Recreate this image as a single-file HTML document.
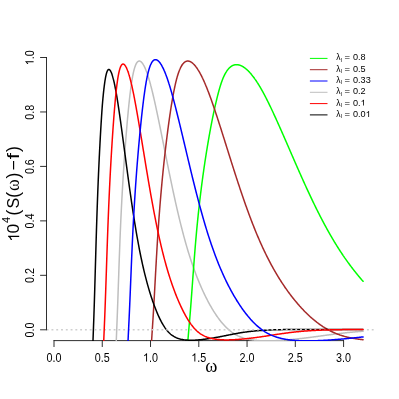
<!DOCTYPE html>
<html><head><meta charset="utf-8"><title>plot</title><style>html,body{margin:0;padding:0;background:#fff;width:399px;height:399px;overflow:hidden}</style></head><body>
<svg width="399" height="399" viewBox="0 0 399 399" style="position:absolute;left:0;top:0">
<defs><filter id="bl" x="0" y="0" width="399" height="399" filterUnits="userSpaceOnUse"><feGaussianBlur stdDeviation="0.35"/></filter><clipPath id="c"><rect x="46.7" y="46.1" width="328.5" height="294.9"/></clipPath></defs>
<rect width="399" height="399" fill="#fff"/>
<g filter="url(#bl)">
<path d="M46.5,57.50 L46.5,329.8 M46.5,329.80 L40.5,329.80 M46.5,275.34 L40.5,275.34 M46.5,220.88 L40.5,220.88 M46.5,166.42 L40.5,166.42 M46.5,111.96 L40.5,111.96 M46.5,57.50 L40.5,57.50 M54.0,340.6 L343.59,340.6 M54.00,340.6 L54.00,346.6 M102.27,340.6 L102.27,346.6 M150.53,340.6 L150.53,346.6 M198.80,340.6 L198.80,346.6 M247.06,340.6 L247.06,346.6 M295.32,340.6 L295.32,346.6 M343.59,340.6 L343.59,346.6" stroke="#1a1a1a" stroke-width="0.9" fill="none" stroke-linecap="round"/>
<g clip-path="url(#c)" fill="none" stroke-linecap="round" stroke-linejoin="round">
<path d="M114.00,407.05 L114.08,404.25 L114.17,401.46 L114.26,398.68 L114.35,395.91 L114.43,393.15 L114.52,390.40 L114.61,387.67 L114.70,384.94 L114.79,382.23 L114.88,379.52 L114.97,376.83 L115.06,374.15 L115.16,371.48 L115.25,368.82 L115.34,366.16 L115.44,363.52 L115.53,360.89 L115.62,358.27 L115.72,355.66 L115.82,353.06 L115.91,350.47 L116.01,347.89 L116.10,345.32 L116.20,342.76 L116.30,340.21 L116.40,337.67 L116.50,335.14 L116.60,332.62 L116.70,330.10 L116.80,327.60 L116.90,325.11 L117.00,322.62 L117.10,320.15 L117.20,317.62 L117.30,315.02 L117.40,312.36 L117.50,309.63 L117.60,306.86 L117.70,304.03 L117.81,301.16 L117.91,298.25 L118.01,295.30 L118.11,292.32 L118.21,289.32 L118.32,286.30 L118.42,283.26 L118.53,280.21 L118.63,277.16 L118.74,274.10 L118.84,271.04 L118.95,267.98 L119.05,264.93 L119.16,261.90 L119.27,258.88 L119.38,255.88 L119.49,252.91 L119.60,249.96 L119.71,247.04 L119.82,244.16 L119.93,241.31 L120.04,238.50 L120.15,235.74 L120.26,233.01 L120.38,230.34 L120.49,227.70 L120.60,225.10 L120.72,222.55 L120.83,220.03 L120.95,217.55 L121.06,215.11 L121.18,212.71 L121.30,210.34 L121.41,208.00 L121.53,205.70 L121.65,203.43 L121.77,201.19 L121.88,198.99 L122.00,196.81 L122.12,194.67 L122.24,192.55 L122.36,190.47 L122.47,188.41 L122.59,186.38 L122.71,184.37 L122.83,182.40 L122.95,180.44 L123.06,178.51 L123.18,176.61 L123.30,174.73 L123.42,172.87 L123.53,171.04 L123.65,169.22 L123.77,167.43 L123.89,165.66 L124.01,163.91 L124.12,162.18 L124.24,160.47 L124.36,158.78 L124.48,157.10 L124.60,155.44 L124.71,153.80 L124.83,152.18 L124.95,150.57 L125.07,148.98 L125.19,147.40 L125.30,145.84 L125.42,144.29 L125.54,142.76 L125.66,141.23 L125.78,139.72 L125.89,138.22 L126.01,136.74 L126.13,135.27 L126.25,133.81 L126.36,132.37 L126.48,130.93 L126.60,129.52 L126.72,128.11 L126.84,126.72 L126.95,125.34 L127.07,123.98 L127.19,122.63 L127.31,121.29 L127.43,119.97 L127.54,118.66 L127.66,117.36 L127.78,116.08 L127.90,114.81 L128.02,113.56 L128.13,112.32 L128.25,111.09 L128.37,109.88 L128.49,108.68 L128.61,107.50 L128.72,106.33 L128.84,105.18 L128.96,104.04 L129.08,102.91 L129.20,101.80 L129.31,100.71 L129.43,99.63 L129.55,98.56 L129.67,97.51 L129.78,96.48 L129.90,95.46 L130.02,94.45 L130.14,93.46 L130.26,92.49 L130.37,91.53 L130.49,90.59 L130.61,89.67 L130.73,88.76 L130.85,87.86 L130.96,86.98 L131.08,86.12 L131.20,85.28 L131.32,84.45 L131.44,83.64 L131.55,82.85 L131.67,82.07 L131.79,81.31 L131.91,80.57 L132.03,79.84 L132.14,79.13 L132.26,78.44 L132.38,77.76 L132.50,77.11 L132.61,76.47 L132.73,75.84 L132.85,75.23 L132.97,74.64 L133.09,74.06 L133.20,73.50 L133.32,72.95 L133.44,72.42 L133.56,71.90 L133.68,71.40 L133.79,70.91 L133.91,70.44 L134.03,69.98 L134.15,69.53 L134.27,69.10 L134.38,68.68 L134.50,68.28 L134.62,67.88 L134.74,67.51 L134.86,67.14 L134.97,66.79 L135.09,66.44 L135.21,66.12 L135.33,65.80 L135.44,65.49 L135.56,65.20 L135.68,64.92 L135.80,64.65 L135.92,64.39 L136.03,64.14 L136.15,63.91 L136.27,63.68 L136.39,63.46 L136.51,63.26 L136.62,63.06 L136.74,62.88 L136.86,62.70 L136.98,62.54 L137.10,62.38 L137.21,62.24 L137.33,62.10 L137.45,61.97 L137.57,61.85 L137.69,61.75 L137.80,61.64 L137.92,61.55 L138.04,61.47 L138.16,61.39 L138.27,61.33 L138.39,61.27 L138.51,61.21 L138.63,61.17 L138.75,61.13 L138.86,61.11 L138.98,61.08 L139.10,61.07 L139.22,61.06 L139.34,61.06 L139.45,61.07 L139.57,61.08 L139.69,61.10 L139.81,61.13 L139.93,61.17 L140.04,61.20 L140.16,61.25 L140.28,61.30 L140.40,61.36 L140.52,61.43 L140.63,61.50 L140.75,61.57 L140.87,61.65 L140.99,61.74 L141.10,61.84 L141.22,61.94 L141.34,62.04 L141.46,62.15 L141.58,62.27 L141.69,62.39 L141.81,62.52 L141.93,62.65 L142.05,62.79 L142.17,62.94 L142.28,63.08 L142.40,63.24 L142.52,63.40 L142.64,63.56 L142.76,63.73 L142.87,63.91 L142.99,64.09 L143.11,64.27 L143.23,64.46 L143.35,64.66 L143.46,64.86 L143.58,65.06 L143.70,65.27 L143.82,65.49 L143.94,65.71 L144.05,65.93 L144.17,66.16 L144.29,66.39 L144.41,66.63 L144.52,66.87 L144.64,67.12 L144.76,67.37 L144.88,67.62 L145.00,67.89 L145.11,68.15 L145.23,68.42 L145.35,68.69 L145.47,68.97 L145.59,69.25 L145.70,69.54 L145.82,69.83 L145.94,70.12 L146.06,70.42 L146.18,70.72 L146.29,71.03 L146.41,71.34 L146.53,71.66 L146.65,71.98 L146.77,72.30 L146.88,72.63 L147.00,72.96 L147.12,73.29 L147.24,73.63 L147.35,73.97 L147.47,74.32 L147.59,74.67 L147.71,75.02 L147.83,75.38 L147.94,75.74 L148.06,76.11 L148.18,76.48 L148.30,76.85 L148.42,77.23 L148.53,77.61 L148.65,77.99 L148.77,78.38 L148.89,78.77 L149.01,79.17 L149.12,79.57 L149.24,79.97 L149.36,80.37 L149.48,80.78 L149.60,81.19 L149.71,81.61 L149.83,82.03 L149.95,82.45 L150.07,82.88 L150.18,83.30 L150.30,83.74 L150.42,84.17 L150.54,84.61 L150.66,85.05 L150.77,85.50 L150.89,85.94 L151.01,86.39 L151.13,86.85 L151.25,87.30 L151.36,87.76 L151.48,88.23 L151.60,88.69 L151.72,89.16 L151.84,89.63 L151.95,90.10 L152.07,90.58 L152.19,91.06 L152.31,91.54 L152.43,92.03 L152.54,92.51 L152.66,93.00 L152.78,93.50 L152.90,93.99 L153.01,94.49 L153.13,94.99 L153.25,95.49 L153.37,95.99 L153.49,96.50 L153.60,97.01 L153.72,97.52 L153.84,98.03 L153.96,98.55 L154.08,99.06 L154.19,99.58 L154.31,100.10 L154.43,100.63 L154.55,101.15 L154.67,101.68 L154.78,102.21 L154.90,102.74 L155.02,103.27 L155.14,103.80 L155.26,104.34 L155.37,104.88 L155.49,105.42 L155.61,105.96 L155.73,106.50 L155.84,107.04 L155.96,107.59 L156.08,108.13 L156.20,108.68 L156.32,109.23 L156.43,109.78 L156.55,110.33 L156.67,110.88 L156.79,111.44 L156.91,111.99 L157.02,112.55 L157.14,113.11 L157.26,113.66 L157.38,114.22 L157.50,114.79 L157.61,115.35 L157.73,115.91 L157.85,116.47 L157.97,117.04 L158.09,117.60 L158.20,118.17 L158.32,118.74 L158.44,119.30 L158.56,119.87 L158.67,120.44 L158.79,121.01 L158.91,121.58 L159.03,122.16 L159.15,122.73 L159.26,123.30 L159.38,123.88 L159.50,124.45 L159.62,125.03 L159.74,125.60 L159.85,126.18 L160.53,129.51 L161.21,132.87 L161.89,136.24 L162.57,139.62 L163.25,143.01 L163.93,146.41 L164.61,149.80 L165.29,153.20 L165.97,156.59 L166.65,159.97 L167.33,163.34 L168.01,166.69 L168.69,170.03 L169.37,173.35 L170.05,176.65 L170.73,179.93 L171.41,183.18 L172.09,186.40 L172.77,189.60 L173.45,192.76 L174.13,195.89 L174.81,198.98 L175.49,202.04 L176.17,205.06 L176.85,208.05 L177.53,210.99 L178.21,213.89 L178.89,216.75 L179.57,219.57 L180.25,222.35 L180.93,225.08 L181.61,227.77 L182.29,230.42 L182.97,233.02 L183.65,235.57 L184.33,238.08 L185.00,240.55 L185.68,242.97 L186.36,245.34 L187.04,247.66 L187.72,249.95 L188.40,252.18 L189.08,254.38 L189.76,256.53 L190.44,258.64 L191.12,260.71 L191.80,262.74 L192.48,264.74 L193.16,266.69 L193.84,268.61 L194.52,270.49 L195.20,272.34 L195.88,274.15 L196.56,275.93 L197.24,277.67 L197.92,279.38 L198.60,281.06 L199.28,282.71 L199.96,284.33 L200.64,285.91 L201.32,287.47 L202.00,289.00 L202.68,290.50 L203.36,291.97 L204.04,293.41 L204.72,294.83 L205.40,296.22 L206.08,297.59 L206.76,298.93 L207.44,300.24 L208.12,301.53 L208.80,302.80 L209.48,304.04 L210.16,305.26 L210.84,306.46 L211.52,307.64 L212.20,308.79 L212.87,309.92 L213.55,311.03 L214.23,312.11 L214.91,313.17 L215.59,314.20 L216.27,315.22 L216.95,316.21 L217.63,317.17 L218.31,318.12 L218.99,319.04 L219.67,319.93 L220.35,320.81 L221.03,321.66 L221.71,322.48 L222.39,323.29 L223.07,324.07 L223.75,324.82 L224.43,325.56 L225.11,326.27 L225.79,326.96 L226.47,327.63 L227.15,328.27 L227.83,328.89 L228.51,329.49 L229.19,330.08 L229.87,330.66 L230.55,331.20 L231.23,331.73 L231.91,332.24 L232.59,332.72 L233.27,333.18 L233.95,333.62 L234.63,334.04 L235.31,334.44 L235.99,334.82 L236.67,335.18 L237.35,335.53 L238.03,335.86 L238.71,336.17 L239.39,336.47 L240.06,336.75 L240.74,337.02 L241.42,337.28 L242.10,337.52 L242.78,337.75 L243.46,337.96 L244.14,338.17 L244.82,338.36 L245.50,338.55 L246.18,338.72 L246.86,338.89 L247.54,339.04 L248.22,339.19 L248.90,339.32 L249.58,339.45 L250.26,339.57 L250.94,339.69 L251.62,339.79 L252.30,339.89 L252.98,339.99 L253.66,340.08 L254.34,340.16 L255.02,340.23 L255.70,340.31 L256.38,340.37 L257.06,340.43 L257.74,340.49 L258.42,340.54 L259.10,340.59 L259.78,340.63 L260.46,340.66 L261.14,340.70 L261.82,340.73 L262.50,340.75 L263.18,340.77 L263.86,340.79 L264.54,340.81 L265.22,340.82 L265.90,340.82 L266.58,340.83 L267.25,340.83 L267.93,340.83 L268.61,340.82 L269.29,340.81 L269.97,340.80 L270.65,340.79 L271.33,340.78 L272.01,340.76 L272.69,340.74 L273.37,340.71 L274.05,340.69 L274.73,340.66 L275.41,340.63 L276.09,340.60 L276.77,340.57 L277.45,340.53 L278.13,340.50 L278.81,340.46 L279.49,340.42 L280.17,340.38 L280.85,340.33 L281.53,340.29 L282.21,340.24 L282.89,340.20 L283.57,340.15 L284.25,340.10 L284.93,340.05 L285.61,339.99 L286.29,339.94 L286.97,339.88 L287.65,339.83 L288.33,339.77 L289.01,339.71 L289.69,339.65 L290.37,339.59 L291.05,339.52 L291.73,339.46 L292.41,339.40 L293.09,339.33 L293.77,339.26 L294.45,339.20 L295.12,339.13 L295.80,339.06 L296.48,338.99 L297.16,338.91 L297.84,338.84 L298.52,338.77 L299.20,338.69 L299.88,338.62 L300.56,338.54 L301.24,338.46 L301.92,338.39 L302.60,338.31 L303.28,338.23 L303.96,338.15 L304.64,338.07 L305.32,337.98 L306.00,337.90 L306.68,337.82 L307.36,337.74 L308.04,337.65 L308.72,337.57 L309.40,337.48 L310.08,337.39 L310.76,337.31 L311.44,337.22 L312.12,337.13 L312.80,337.04 L313.48,336.95 L314.16,336.86 L314.84,336.77 L315.52,336.68 L316.20,336.59 L316.88,336.50 L317.56,336.40 L318.24,336.31 L318.92,336.22 L319.60,336.13 L320.28,336.03 L320.96,335.94 L321.64,335.85 L322.31,335.75 L322.99,335.66 L323.67,335.57 L324.35,335.48 L325.03,335.38 L325.71,335.29 L326.39,335.20 L327.07,335.11 L327.75,335.02 L328.43,334.92 L329.11,334.83 L329.79,334.74 L330.47,334.65 L331.15,334.56 L331.83,334.47 L332.51,334.39 L333.19,334.30 L333.87,334.21 L334.55,334.12 L335.23,334.04 L335.91,333.95 L336.59,333.87 L337.27,333.78 L337.95,333.70 L338.63,333.62 L339.31,333.54 L339.99,333.45 L340.67,333.37 L341.35,333.29 L342.03,333.22 L342.71,333.14 L343.39,333.06 L344.07,332.98 L344.75,332.91 L345.43,332.83 L346.11,332.76 L346.79,332.69 L347.47,332.62 L348.15,332.55 L348.83,332.48 L349.50,332.41 L350.18,332.34 L350.86,332.27 L351.54,332.21 L352.22,332.14 L352.90,332.08 L353.58,332.02 L354.26,331.95 L354.94,331.89 L355.62,331.83 L356.30,331.77 L356.98,331.72 L357.66,331.66 L358.34,331.61 L359.02,331.55 L359.70,331.50 L360.38,331.45 L361.06,331.40 L361.74,331.35 L362.42,331.30 L363.10,331.25" stroke="#bebebe" stroke-width="1.5"/>
<path d="M183.13,406.01 L183.27,403.87 L183.41,401.74 L183.55,399.61 L183.69,397.49 L183.83,395.38 L183.97,393.27 L184.11,391.17 L184.25,389.08 L184.40,386.99 L184.54,384.91 L184.69,382.84 L184.83,380.77 L184.98,378.70 L185.13,376.65 L185.27,374.60 L185.42,372.56 L185.57,370.52 L185.72,368.49 L185.87,366.46 L186.02,364.44 L186.17,362.43 L186.33,360.43 L186.48,358.42 L186.63,356.43 L186.79,354.44 L186.94,352.46 L187.10,350.48 L187.26,348.51 L187.41,346.55 L187.57,344.59 L187.73,342.63 L187.89,340.69 L188.05,338.74 L188.21,336.81 L188.37,334.88 L188.53,332.95 L188.69,331.03 L188.85,329.12 L189.02,327.21 L189.18,325.31 L189.34,323.41 L189.51,321.52 L189.67,319.63 L189.84,317.69 L190.00,315.71 L190.17,313.69 L190.33,311.64 L190.50,309.55 L190.66,307.43 L190.83,305.28 L190.99,303.10 L191.16,300.90 L191.33,298.67 L191.49,296.42 L191.66,294.16 L191.83,291.88 L191.99,289.59 L192.16,287.28 L192.33,284.97 L192.50,282.64 L192.67,280.31 L192.84,277.98 L193.01,275.64 L193.19,273.31 L193.36,270.97 L193.53,268.64 L193.71,266.32 L193.88,264.00 L194.06,261.69 L194.23,259.39 L194.41,257.10 L194.59,254.82 L194.77,252.57 L194.95,250.32 L195.13,248.10 L195.31,245.90 L195.49,243.71 L195.68,241.55 L195.86,239.42 L196.05,237.31 L196.23,235.22 L196.42,233.16 L196.60,231.13 L196.79,229.12 L196.98,227.14 L197.17,225.17 L197.36,223.24 L197.55,221.32 L197.74,219.43 L197.93,217.56 L198.12,215.71 L198.31,213.88 L198.50,212.07 L198.69,210.29 L198.89,208.52 L199.08,206.77 L199.27,205.04 L199.47,203.34 L199.66,201.65 L199.86,199.97 L200.05,198.32 L200.25,196.68 L200.44,195.07 L200.64,193.46 L200.83,191.88 L201.03,190.31 L201.22,188.76 L201.42,187.22 L201.62,185.70 L201.81,184.19 L202.01,182.70 L202.20,181.23 L202.40,179.77 L202.59,178.32 L202.79,176.88 L202.98,175.46 L203.18,174.06 L203.37,172.66 L203.57,171.28 L203.76,169.91 L203.96,168.56 L204.15,167.21 L204.35,165.88 L204.54,164.56 L204.74,163.25 L204.93,161.95 L205.13,160.67 L205.32,159.39 L205.52,158.12 L205.71,156.87 L205.91,155.62 L206.10,154.39 L206.30,153.16 L206.50,151.94 L206.69,150.73 L206.89,149.53 L207.08,148.34 L207.28,147.16 L207.47,145.98 L207.67,144.81 L207.86,143.65 L208.06,142.50 L208.25,141.35 L208.45,140.22 L208.64,139.09 L208.84,137.96 L209.03,136.85 L209.23,135.74 L209.42,134.64 L209.62,133.55 L209.81,132.47 L210.01,131.39 L210.20,130.33 L210.40,129.27 L210.59,128.22 L210.79,127.17 L210.98,126.14 L211.18,125.11 L211.38,124.09 L211.57,123.08 L211.77,122.08 L211.96,121.08 L212.16,120.10 L212.35,119.12 L212.55,118.15 L212.74,117.19 L212.94,116.23 L213.13,115.29 L213.33,114.35 L213.52,113.42 L213.72,112.50 L213.91,111.59 L214.11,110.69 L214.30,109.79 L214.50,108.90 L214.69,108.03 L214.89,107.16 L215.08,106.30 L215.28,105.44 L215.47,104.60 L215.67,103.77 L215.86,102.94 L216.05,102.12 L216.25,101.31 L216.44,100.52 L216.62,99.73 L216.81,98.94 L217.00,98.17 L217.19,97.41 L217.37,96.66 L217.56,95.91 L217.75,95.18 L217.93,94.45 L218.12,93.73 L218.30,93.03 L218.48,92.33 L218.67,91.64 L218.85,90.96 L219.04,90.29 L219.22,89.64 L219.40,88.99 L219.59,88.35 L219.77,87.72 L219.95,87.10 L220.14,86.49 L220.32,85.89 L220.51,85.30 L220.69,84.72 L220.88,84.15 L221.06,83.59 L221.25,83.04 L221.43,82.50 L221.62,81.97 L221.80,81.45 L221.99,80.94 L222.17,80.44 L222.36,79.95 L222.55,79.47 L222.73,79.00 L222.92,78.54 L223.11,78.08 L223.30,77.64 L223.48,77.21 L223.67,76.78 L223.86,76.37 L224.05,75.96 L224.24,75.56 L224.43,75.17 L224.62,74.79 L224.81,74.42 L225.00,74.06 L225.19,73.70 L225.38,73.36 L225.57,73.02 L225.76,72.69 L225.95,72.36 L226.15,72.05 L226.34,71.74 L226.53,71.44 L226.72,71.15 L226.91,70.87 L227.11,70.59 L227.30,70.32 L227.49,70.06 L227.69,69.81 L227.88,69.56 L228.07,69.32 L228.27,69.09 L228.46,68.86 L228.65,68.64 L228.85,68.43 L229.04,68.22 L229.23,68.02 L229.43,67.83 L229.62,67.65 L229.82,67.47 L230.01,67.29 L230.21,67.13 L230.40,66.96 L230.59,66.81 L230.79,66.66 L230.98,66.52 L231.18,66.38 L231.37,66.25 L231.57,66.13 L231.76,66.01 L231.96,65.89 L232.15,65.78 L232.35,65.68 L232.54,65.58 L232.74,65.49 L232.93,65.40 L233.13,65.32 L233.32,65.25 L233.52,65.17 L233.71,65.11 L233.91,65.05 L234.10,64.99 L234.30,64.94 L234.49,64.89 L234.69,64.85 L234.89,64.81 L235.08,64.78 L235.28,64.75 L235.47,64.72 L235.67,64.70 L235.86,64.69 L236.06,64.68 L236.25,64.67 L236.45,64.67 L236.64,64.67 L236.84,64.67 L237.03,64.68 L237.23,64.70 L237.42,64.71 L237.62,64.73 L237.81,64.76 L238.01,64.79 L238.20,64.82 L238.40,64.86 L238.59,64.90 L238.79,64.94 L238.98,64.99 L239.18,65.04 L239.37,65.09 L239.57,65.15 L239.77,65.21 L239.96,65.27 L240.16,65.34 L240.35,65.41 L240.55,65.49 L240.74,65.57 L240.94,65.65 L241.13,65.73 L241.33,65.82 L241.52,65.91 L241.72,66.01 L241.91,66.10 L242.11,66.20 L242.30,66.31 L242.50,66.42 L242.69,66.53 L242.89,66.64 L243.08,66.76 L243.28,66.88 L243.47,67.00 L243.67,67.13 L243.86,67.26 L244.06,67.39 L244.25,67.52 L244.45,67.66 L244.65,67.80 L244.84,67.95 L245.04,68.09 L245.23,68.24 L245.43,68.40 L245.62,68.55 L245.82,68.71 L246.01,68.87 L246.21,69.03 L246.40,69.20 L246.60,69.37 L246.79,69.54 L246.99,69.72 L247.18,69.90 L247.38,70.08 L247.57,70.26 L247.77,70.45 L247.96,70.63 L248.16,70.83 L248.35,71.02 L248.55,71.22 L248.74,71.42 L248.94,71.62 L249.13,71.82 L249.33,72.03 L249.53,72.24 L249.72,72.45 L249.92,72.66 L250.11,72.88 L250.31,73.10 L250.50,73.32 L250.70,73.55 L250.89,73.77 L251.09,74.00 L251.28,74.23 L251.48,74.47 L251.67,74.71 L251.87,74.94 L252.06,75.19 L252.26,75.43 L252.45,75.68 L252.65,75.93 L252.84,76.18 L253.04,76.43 L253.23,76.68 L253.43,76.94 L253.62,77.20 L253.82,77.47 L254.01,77.73 L254.21,78.00 L254.41,78.27 L254.60,78.54 L254.80,78.81 L254.99,79.09 L255.19,79.37 L255.38,79.65 L255.58,79.93 L255.77,80.21 L255.97,80.50 L256.16,80.79 L256.36,81.08 L256.55,81.37 L256.75,81.67 L256.94,81.97 L257.14,82.27 L257.33,82.57 L257.53,82.87 L257.72,83.18 L258.08,83.74 L258.43,84.30 L258.78,84.87 L259.13,85.45 L259.49,86.03 L259.84,86.62 L260.19,87.22 L260.54,87.82 L260.90,88.43 L261.25,89.04 L261.60,89.66 L261.95,90.29 L262.31,90.92 L262.66,91.56 L263.01,92.20 L263.36,92.85 L263.72,93.50 L264.07,94.16 L264.42,94.83 L264.77,95.50 L265.12,96.17 L265.48,96.85 L265.83,97.53 L266.18,98.22 L266.53,98.91 L266.89,99.61 L267.24,100.31 L267.59,101.02 L267.94,101.73 L268.30,102.44 L268.65,103.16 L269.00,103.88 L269.35,104.60 L269.71,105.33 L270.06,106.06 L270.41,106.80 L270.76,107.54 L271.12,108.28 L271.47,109.02 L271.82,109.77 L272.17,110.52 L272.53,111.27 L272.88,112.03 L273.23,112.78 L273.58,113.55 L273.94,114.31 L274.29,115.07 L274.64,115.84 L274.99,116.61 L275.35,117.38 L275.70,118.16 L276.05,118.93 L276.40,119.71 L276.75,120.49 L277.11,121.27 L277.46,122.05 L277.81,122.83 L278.16,123.62 L278.52,124.41 L278.87,125.19 L279.22,125.98 L279.57,126.77 L279.93,127.57 L280.28,128.36 L280.63,129.16 L280.98,129.95 L281.34,130.75 L281.69,131.55 L282.04,132.35 L282.39,133.15 L282.75,133.95 L283.10,134.75 L283.45,135.55 L283.80,136.36 L284.16,137.16 L284.51,137.97 L284.86,138.77 L285.21,139.58 L285.57,140.39 L285.92,141.20 L286.27,142.01 L286.62,142.82 L286.98,143.63 L287.33,144.44 L287.68,145.25 L288.03,146.06 L288.39,146.87 L288.74,147.68 L289.09,148.49 L289.44,149.31 L289.79,150.12 L290.15,150.93 L290.50,151.74 L290.85,152.55 L291.20,153.37 L291.56,154.18 L291.91,154.99 L292.26,155.80 L292.61,156.61 L292.97,157.42 L293.32,158.23 L293.67,159.04 L294.02,159.85 L294.38,160.66 L294.73,161.46 L295.08,162.27 L295.43,163.08 L295.79,163.88 L296.14,164.69 L296.49,165.49 L296.84,166.30 L297.20,167.10 L297.55,167.90 L297.90,168.70 L298.25,169.50 L298.61,170.30 L298.96,171.10 L299.31,171.90 L299.66,172.69 L300.02,173.49 L300.37,174.28 L300.72,175.07 L301.07,175.87 L301.42,176.66 L301.78,177.45 L302.13,178.23 L302.48,179.02 L302.83,179.80 L303.19,180.59 L303.54,181.37 L303.89,182.15 L304.24,182.93 L304.60,183.71 L304.95,184.48 L305.30,185.26 L305.65,186.03 L306.01,186.80 L306.36,187.57 L306.71,188.34 L307.06,189.10 L307.42,189.87 L307.77,190.63 L308.12,191.39 L308.47,192.15 L308.83,192.91 L309.18,193.66 L309.53,194.42 L309.88,195.17 L310.24,195.92 L310.59,196.66 L310.94,197.41 L311.29,198.15 L311.65,198.90 L312.00,199.63 L312.35,200.37 L312.70,201.11 L313.06,201.84 L313.41,202.57 L313.76,203.30 L314.11,204.03 L314.46,204.75 L314.82,205.48 L315.17,206.20 L315.52,206.91 L315.87,207.63 L316.23,208.34 L316.58,209.05 L316.93,209.76 L317.28,210.47 L317.64,211.18 L317.99,211.88 L318.34,212.58 L318.69,213.28 L319.05,213.97 L319.40,214.66 L319.75,215.35 L320.10,216.04 L320.46,216.73 L320.81,217.41 L321.16,218.09 L321.51,218.77 L321.87,219.45 L322.22,220.12 L322.57,220.79 L322.92,221.46 L323.28,222.13 L323.63,222.79 L323.98,223.45 L324.33,224.11 L324.69,224.77 L325.04,225.42 L325.39,226.07 L325.74,226.72 L326.09,227.36 L326.45,228.01 L326.80,228.65 L327.15,229.29 L327.50,229.92 L327.86,230.56 L328.21,231.19 L328.56,231.81 L328.91,232.44 L329.27,233.06 L329.62,233.68 L329.97,234.30 L330.32,234.91 L330.68,235.53 L331.03,236.14 L331.38,236.74 L331.73,237.35 L332.09,237.95 L332.44,238.55 L332.79,239.15 L333.14,239.74 L333.50,240.33 L333.85,240.92 L334.20,241.51 L334.55,242.09 L334.91,242.67 L335.26,243.25 L335.61,243.82 L335.96,244.39 L336.32,244.96 L336.67,245.53 L337.02,246.10 L337.37,246.66 L337.73,247.22 L338.08,247.77 L338.43,248.33 L338.78,248.88 L339.13,249.43 L339.49,249.97 L339.84,250.52 L340.19,251.06 L340.54,251.60 L340.90,252.13 L341.25,252.67 L341.60,253.20 L341.95,253.73 L342.31,254.25 L342.66,254.78 L343.01,255.30 L343.36,255.82 L343.72,256.33 L344.07,256.85 L344.42,257.36 L344.77,257.87 L345.13,258.37 L345.48,258.88 L345.83,259.38 L346.18,259.88 L346.54,260.38 L346.89,260.87 L347.24,261.36 L347.59,261.85 L347.95,262.34 L348.30,262.83 L348.65,263.31 L349.00,263.79 L349.36,264.27 L349.71,264.75 L350.06,265.22 L350.41,265.70 L350.76,266.17 L351.12,266.64 L351.47,267.10 L351.82,267.57 L352.17,268.03 L352.53,268.49 L352.88,268.94 L353.23,269.40 L353.58,269.85 L353.94,270.30 L354.29,270.75 L354.64,271.20 L354.99,271.64 L355.35,272.09 L355.70,272.53 L356.05,272.97 L356.40,273.40 L356.76,273.84 L357.11,274.27 L357.46,274.70 L357.81,275.13 L358.17,275.56 L358.52,275.98 L358.87,276.41 L359.22,276.83 L359.58,277.25 L359.93,277.66 L360.28,278.08 L360.63,278.49 L360.99,278.90 L361.34,279.31 L361.69,279.72 L362.04,280.13 L362.40,280.53 L362.75,280.93 L363.10,281.33" stroke="#00ff00" stroke-width="1.5"/>
<path d="M147.89,407.05 L148.01,404.68 L148.13,402.32 L148.25,399.96 L148.37,397.61 L148.49,395.28 L148.61,392.94 L148.74,390.62 L148.86,388.30 L148.98,386.00 L149.11,383.70 L149.23,381.40 L149.36,379.12 L149.48,376.84 L149.61,374.57 L149.73,372.31 L149.86,370.06 L149.99,367.81 L150.12,365.57 L150.25,363.34 L150.38,361.11 L150.50,358.89 L150.63,356.68 L150.77,354.48 L150.90,352.28 L151.03,350.09 L151.16,347.91 L151.29,345.74 L151.42,343.57 L151.56,341.41 L151.69,339.25 L151.82,337.11 L151.96,334.97 L152.09,332.83 L152.23,330.71 L152.36,328.59 L152.50,326.48 L152.64,324.37 L152.77,322.27 L152.91,320.18 L153.05,318.04 L153.19,315.86 L153.32,313.63 L153.46,311.35 L153.60,309.03 L153.73,306.68 L153.87,304.29 L154.01,301.86 L154.15,299.41 L154.28,296.93 L154.42,294.43 L154.56,291.91 L154.70,289.37 L154.84,286.81 L154.98,284.25 L155.12,281.67 L155.26,279.09 L155.40,276.50 L155.54,273.91 L155.69,271.32 L155.83,268.74 L155.97,266.16 L156.12,263.59 L156.26,261.03 L156.40,258.48 L156.55,255.94 L156.70,253.42 L156.84,250.92 L156.99,248.44 L157.14,245.99 L157.29,243.55 L157.43,241.15 L157.58,238.77 L157.73,236.43 L157.88,234.12 L158.03,231.83 L158.19,229.58 L158.34,227.36 L158.49,225.16 L158.64,223.00 L158.80,220.86 L158.95,218.75 L159.10,216.67 L159.26,214.61 L159.41,212.58 L159.57,210.58 L159.72,208.59 L159.88,206.64 L160.03,204.71 L160.19,202.80 L160.34,200.91 L160.50,199.05 L160.66,197.21 L160.81,195.39 L160.97,193.59 L161.13,191.81 L161.28,190.05 L161.44,188.31 L161.60,186.59 L161.75,184.89 L161.91,183.21 L162.06,181.55 L162.22,179.91 L162.38,178.28 L162.53,176.67 L162.69,175.08 L162.85,173.50 L163.00,171.94 L163.16,170.40 L163.32,168.87 L163.47,167.35 L163.63,165.86 L163.79,164.37 L163.94,162.90 L164.10,161.45 L164.26,160.00 L164.41,158.58 L164.57,157.16 L164.73,155.76 L164.88,154.36 L165.04,152.99 L165.19,151.62 L165.35,150.26 L165.51,148.92 L165.66,147.58 L165.82,146.26 L165.98,144.94 L166.13,143.64 L166.29,142.34 L166.45,141.06 L166.60,139.78 L166.76,138.51 L166.92,137.25 L167.07,136.00 L167.23,134.76 L167.39,133.53 L167.54,132.31 L167.70,131.10 L167.85,129.90 L168.01,128.71 L168.17,127.52 L168.32,126.35 L168.48,125.19 L168.64,124.03 L168.79,122.89 L168.95,121.76 L169.11,120.63 L169.26,119.52 L169.42,118.41 L169.58,117.32 L169.73,116.24 L169.89,115.16 L170.05,114.10 L170.20,113.04 L170.36,112.00 L170.52,110.96 L170.67,109.94 L170.83,108.92 L170.98,107.92 L171.14,106.93 L171.30,105.94 L171.45,104.97 L171.61,104.01 L171.77,103.05 L171.92,102.11 L172.08,101.18 L172.24,100.26 L172.39,99.35 L172.55,98.45 L172.71,97.56 L172.86,96.69 L173.02,95.82 L173.18,94.97 L173.33,94.12 L173.49,93.29 L173.65,92.47 L173.80,91.66 L173.96,90.86 L174.11,90.07 L174.27,89.29 L174.43,88.53 L174.58,87.77 L174.74,87.03 L174.90,86.30 L175.05,85.58 L175.21,84.88 L175.37,84.18 L175.52,83.50 L175.68,82.83 L175.84,82.17 L175.99,81.53 L176.15,80.89 L176.31,80.27 L176.46,79.66 L176.62,79.06 L176.77,78.48 L176.93,77.91 L177.09,77.35 L177.24,76.80 L177.40,76.26 L177.56,75.73 L177.71,75.22 L177.87,74.72 L178.03,74.23 L178.18,73.75 L178.34,73.28 L178.50,72.82 L178.65,72.37 L178.81,71.93 L178.97,71.51 L179.12,71.09 L179.28,70.68 L179.44,70.29 L179.59,69.90 L179.75,69.53 L179.90,69.16 L180.06,68.80 L180.22,68.46 L180.37,68.12 L180.53,67.79 L180.69,67.47 L180.84,67.16 L181.00,66.86 L181.16,66.57 L181.31,66.29 L181.47,66.01 L181.63,65.75 L181.78,65.49 L181.94,65.24 L182.10,65.00 L182.25,64.77 L182.41,64.55 L182.56,64.33 L182.72,64.12 L182.88,63.92 L183.03,63.73 L183.19,63.54 L183.35,63.37 L183.50,63.20 L183.66,63.03 L183.82,62.88 L183.97,62.73 L184.13,62.59 L184.29,62.45 L184.44,62.33 L184.60,62.20 L184.76,62.09 L184.91,61.98 L185.07,61.88 L185.23,61.79 L185.38,61.70 L185.54,61.61 L185.69,61.54 L185.85,61.47 L186.01,61.40 L186.16,61.34 L186.32,61.29 L186.48,61.24 L186.63,61.20 L186.79,61.17 L186.95,61.14 L187.10,61.11 L187.26,61.09 L187.42,61.08 L187.57,61.07 L187.73,61.06 L187.89,61.06 L188.04,61.07 L188.20,61.08 L188.36,61.09 L188.51,61.11 L188.67,61.14 L188.82,61.17 L188.98,61.20 L189.14,61.24 L189.29,61.28 L189.45,61.33 L189.61,61.38 L189.76,61.44 L189.92,61.50 L190.08,61.56 L190.23,61.63 L190.39,61.70 L190.55,61.78 L190.70,61.86 L190.86,61.94 L191.02,62.03 L191.17,62.13 L191.33,62.22 L191.48,62.32 L191.64,62.43 L191.80,62.54 L191.95,62.65 L192.11,62.77 L192.27,62.89 L192.42,63.01 L192.58,63.14 L192.74,63.27 L192.89,63.41 L193.05,63.55 L193.21,63.69 L193.36,63.84 L193.52,63.99 L193.68,64.14 L193.83,64.30 L193.99,64.46 L194.15,64.63 L194.30,64.79 L194.46,64.97 L194.61,65.14 L194.77,65.32 L194.93,65.50 L195.08,65.69 L195.24,65.87 L195.40,66.07 L195.55,66.26 L195.71,66.46 L195.87,66.66 L196.02,66.87 L196.18,67.08 L196.34,67.29 L196.49,67.50 L196.65,67.72 L196.81,67.94 L196.96,68.16 L197.12,68.39 L197.27,68.62 L197.43,68.86 L197.59,69.09 L197.74,69.33 L197.90,69.58 L198.06,69.82 L198.21,70.07 L198.37,70.32 L198.53,70.58 L198.68,70.83 L198.84,71.09 L199.00,71.36 L199.15,71.62 L199.31,71.89 L199.47,72.17 L199.62,72.44 L199.78,72.72 L199.94,73.00 L200.09,73.28 L200.25,73.57 L200.40,73.86 L200.56,74.15 L200.72,74.45 L200.87,74.74 L201.03,75.04 L201.19,75.35 L201.34,75.65 L201.50,75.96 L201.66,76.27 L201.81,76.58 L201.97,76.90 L202.13,77.22 L202.28,77.54 L202.44,77.86 L202.60,78.19 L202.75,78.52 L202.91,78.85 L203.07,79.19 L203.22,79.52 L203.38,79.86 L203.53,80.20 L203.69,80.55 L203.85,80.89 L204.00,81.24 L204.16,81.60 L204.32,81.95 L204.47,82.31 L204.63,82.66 L204.79,83.03 L204.94,83.39 L205.10,83.75 L205.26,84.12 L205.41,84.49 L205.57,84.86 L205.73,85.24 L205.88,85.62 L206.04,86.00 L206.19,86.38 L206.35,86.76 L206.51,87.15 L206.66,87.53 L206.82,87.92 L206.98,88.32 L207.13,88.71 L207.29,89.11 L207.45,89.50 L207.60,89.90 L207.76,90.31 L207.92,90.71 L208.07,91.12 L208.23,91.52 L208.39,91.93 L208.54,92.34 L208.70,92.76 L209.22,94.13 L209.73,95.53 L210.25,96.94 L210.76,98.37 L211.28,99.82 L211.80,101.28 L212.31,102.76 L212.83,104.25 L213.35,105.75 L213.86,107.26 L214.38,108.79 L214.90,110.33 L215.41,111.87 L215.93,113.43 L216.44,114.99 L216.96,116.56 L217.48,118.14 L217.99,119.72 L218.51,121.32 L219.03,122.91 L219.54,124.52 L220.06,126.12 L220.58,127.74 L221.09,129.35 L221.61,130.97 L222.12,132.60 L222.64,134.23 L223.16,135.86 L223.67,137.50 L224.19,139.14 L224.71,140.78 L225.22,142.42 L225.74,144.06 L226.26,145.71 L226.77,147.35 L227.29,148.99 L227.81,150.64 L228.32,152.28 L228.84,153.92 L229.35,155.57 L229.87,157.21 L230.39,158.84 L230.90,160.48 L231.42,162.11 L231.94,163.74 L232.45,165.37 L232.97,166.99 L233.49,168.61 L234.00,170.22 L234.52,171.83 L235.03,173.44 L235.55,175.04 L236.07,176.63 L236.58,178.22 L237.10,179.81 L237.62,181.38 L238.13,182.96 L238.65,184.52 L239.17,186.08 L239.68,187.63 L240.20,189.18 L240.72,190.71 L241.23,192.24 L241.75,193.76 L242.26,195.28 L242.78,196.78 L243.30,198.28 L243.81,199.77 L244.33,201.25 L244.85,202.72 L245.36,204.19 L245.88,205.64 L246.40,207.09 L246.91,208.52 L247.43,209.95 L247.94,211.37 L248.46,212.78 L248.98,214.18 L249.49,215.57 L250.01,216.94 L250.53,218.31 L251.04,219.67 L251.56,221.02 L252.08,222.36 L252.59,223.69 L253.11,225.01 L253.62,226.32 L254.14,227.62 L254.66,228.90 L255.17,230.18 L255.69,231.45 L256.21,232.70 L256.72,233.95 L257.24,235.18 L257.76,236.41 L258.27,237.62 L258.79,238.82 L259.31,240.02 L259.82,241.20 L260.34,242.37 L260.85,243.53 L261.37,244.68 L261.89,245.81 L262.40,246.94 L262.92,248.06 L263.44,249.17 L263.95,250.26 L264.47,251.35 L264.99,252.42 L265.50,253.49 L266.02,254.54 L266.53,255.59 L267.05,256.63 L267.57,257.65 L268.08,258.67 L268.60,259.68 L269.12,260.68 L269.63,261.67 L270.15,262.65 L270.67,263.62 L271.18,264.58 L271.70,265.53 L272.21,266.47 L272.73,267.41 L273.25,268.34 L273.76,269.25 L274.28,270.16 L274.80,271.07 L275.31,271.96 L275.83,272.84 L276.35,273.72 L276.86,274.59 L277.38,275.45 L277.90,276.30 L278.41,277.15 L278.93,277.99 L279.44,278.82 L279.96,279.64 L280.48,280.45 L280.99,281.26 L281.51,282.06 L282.03,282.85 L282.54,283.64 L283.06,284.42 L283.58,285.19 L284.09,285.95 L284.61,286.71 L285.12,287.46 L285.64,288.20 L286.16,288.94 L286.67,289.67 L287.19,290.39 L287.71,291.11 L288.22,291.82 L288.74,292.52 L289.26,293.22 L289.77,293.91 L290.29,294.60 L290.81,295.28 L291.32,295.95 L291.84,296.62 L292.35,297.28 L292.87,297.93 L293.39,298.58 L293.90,299.22 L294.42,299.86 L294.94,300.49 L295.45,301.12 L295.97,301.74 L296.49,302.35 L297.00,302.96 L297.52,303.57 L298.03,304.16 L298.55,304.76 L299.07,305.34 L299.58,305.93 L300.10,306.50 L300.62,307.07 L301.13,307.64 L301.65,308.20 L302.17,308.76 L302.68,309.31 L303.20,309.85 L303.71,310.39 L304.23,310.92 L304.75,311.45 L305.26,311.98 L305.78,312.49 L306.30,313.01 L306.81,313.51 L307.33,314.01 L307.85,314.51 L308.36,315.00 L308.88,315.48 L309.40,315.96 L309.91,316.44 L310.43,316.90 L310.94,317.37 L311.46,317.82 L311.98,318.28 L312.49,318.72 L313.01,319.16 L313.53,319.60 L314.04,320.03 L314.56,320.45 L315.08,320.87 L315.59,321.28 L316.11,321.69 L316.62,322.10 L317.14,322.49 L317.66,322.88 L318.17,323.27 L318.69,323.65 L319.21,324.03 L319.72,324.40 L320.24,324.76 L320.76,325.12 L321.27,325.48 L321.79,325.83 L322.31,326.17 L322.82,326.51 L323.34,326.84 L323.85,327.17 L324.37,327.49 L324.89,327.81 L325.40,328.12 L325.92,328.43 L326.44,328.73 L326.95,329.02 L327.47,329.32 L327.99,329.60 L328.50,329.89 L329.02,330.17 L329.53,330.45 L330.05,330.72 L330.57,330.99 L331.08,331.25 L331.60,331.51 L332.12,331.76 L332.63,332.01 L333.15,332.25 L333.67,332.48 L334.18,332.71 L334.70,332.94 L335.21,333.16 L335.73,333.38 L336.25,333.59 L336.76,333.79 L337.28,334.00 L337.80,334.19 L338.31,334.39 L338.83,334.57 L339.35,334.76 L339.86,334.94 L340.38,335.11 L340.90,335.28 L341.41,335.45 L341.93,335.62 L342.44,335.77 L342.96,335.93 L343.48,336.08 L343.99,336.23 L344.51,336.37 L345.03,336.52 L345.54,336.65 L346.06,336.79 L346.58,336.92 L347.09,337.05 L347.61,337.17 L348.12,337.29 L348.64,337.41 L349.16,337.53 L349.67,337.64 L350.19,337.75 L350.71,337.85 L351.22,337.96 L351.74,338.06 L352.26,338.16 L352.77,338.25 L353.29,338.35 L353.80,338.44 L354.32,338.53 L354.84,338.61 L355.35,338.70 L355.87,338.78 L356.39,338.86 L356.90,338.93 L357.42,339.01 L357.94,339.08 L358.45,339.15 L358.97,339.22 L359.49,339.29 L360.00,339.35 L360.52,339.41 L361.03,339.47 L361.55,339.53 L362.07,339.59 L362.58,339.65 L363.10,339.70" stroke="#a52a2a" stroke-width="1.5"/>
<path d="M90.68,404.63 L90.80,401.27 L90.92,397.94 L91.04,394.62 L91.16,391.31 L91.28,388.03 L91.39,384.75 L91.51,381.50 L91.63,378.26 L91.75,375.03 L91.86,371.83 L91.98,368.63 L92.09,365.46 L92.21,362.29 L92.32,359.15 L92.44,356.02 L92.55,352.90 L92.66,349.80 L92.77,346.71 L92.89,343.64 L93.00,340.58 L93.11,337.53 L93.22,334.51 L93.33,331.49 L93.44,328.49 L93.55,325.50 L93.66,322.53 L93.77,319.55 L93.87,316.49 L93.98,313.32 L94.09,310.06 L94.20,306.73 L94.31,303.32 L94.42,299.85 L94.52,296.33 L94.63,292.76 L94.74,289.16 L94.84,285.53 L94.95,281.88 L95.06,278.22 L95.16,274.55 L95.27,270.89 L95.37,267.24 L95.47,263.61 L95.58,260.01 L95.68,256.43 L95.78,252.89 L95.88,249.40 L95.98,245.95 L96.08,242.56 L96.18,239.24 L96.28,235.97 L96.38,232.77 L96.47,229.64 L96.57,226.56 L96.67,223.54 L96.76,220.58 L96.86,217.67 L96.96,214.81 L97.05,212.01 L97.15,209.25 L97.24,206.55 L97.34,203.89 L97.43,201.28 L97.52,198.71 L97.62,196.18 L97.71,193.70 L97.80,191.26 L97.90,188.86 L97.99,186.49 L98.09,184.17 L98.18,181.88 L98.27,179.62 L98.37,177.40 L98.46,175.21 L98.55,173.06 L98.65,170.93 L98.74,168.84 L98.84,166.77 L98.93,164.74 L99.02,162.73 L99.12,160.74 L99.21,158.78 L99.30,156.85 L99.40,154.94 L99.49,153.05 L99.58,151.18 L99.68,149.33 L99.77,147.50 L99.87,145.69 L99.96,143.90 L100.05,142.13 L100.15,140.38 L100.24,138.64 L100.33,136.93 L100.43,135.24 L100.52,133.56 L100.62,131.91 L100.71,130.28 L100.80,128.66 L100.90,127.07 L100.99,125.50 L101.08,123.95 L101.18,122.42 L101.27,120.90 L101.37,119.41 L101.46,117.95 L101.55,116.50 L101.65,115.07 L101.74,113.66 L101.83,112.28 L101.93,110.92 L102.02,109.57 L102.12,108.25 L102.21,106.96 L102.31,105.68 L102.41,104.43 L102.51,103.20 L102.61,101.99 L102.71,100.80 L102.82,99.64 L102.92,98.50 L103.02,97.39 L103.13,96.30 L103.23,95.23 L103.34,94.19 L103.44,93.17 L103.55,92.17 L103.65,91.20 L103.76,90.26 L103.86,89.34 L103.96,88.45 L104.07,87.58 L104.17,86.73 L104.27,85.92 L104.38,85.12 L104.48,84.35 L104.58,83.61 L104.68,82.89 L104.78,82.19 L104.88,81.51 L104.98,80.86 L105.08,80.23 L105.18,79.62 L105.28,79.03 L105.38,78.47 L105.47,77.92 L105.57,77.40 L105.67,76.89 L105.77,76.41 L105.86,75.94 L105.96,75.50 L106.06,75.07 L106.15,74.66 L106.25,74.27 L106.34,73.90 L106.44,73.54 L106.53,73.20 L106.63,72.88 L106.72,72.58 L106.82,72.29 L106.91,72.02 L107.01,71.76 L107.10,71.52 L107.19,71.29 L107.29,71.08 L107.38,70.88 L107.48,70.70 L107.57,70.53 L107.66,70.37 L107.76,70.23 L107.85,70.10 L107.95,69.99 L108.04,69.88 L108.13,69.79 L108.23,69.71 L108.32,69.64 L108.41,69.59 L108.51,69.54 L108.60,69.51 L108.70,69.49 L108.79,69.48 L108.88,69.47 L108.98,69.48 L109.07,69.50 L109.16,69.53 L109.26,69.57 L109.35,69.61 L109.45,69.67 L109.54,69.74 L109.63,69.81 L109.73,69.90 L109.82,69.99 L109.91,70.09 L110.01,70.20 L110.10,70.32 L110.20,70.44 L110.29,70.58 L110.38,70.72 L110.48,70.87 L110.57,71.03 L110.66,71.20 L110.76,71.38 L110.85,71.56 L110.95,71.75 L111.04,71.95 L111.13,72.16 L111.23,72.37 L111.32,72.59 L111.41,72.82 L111.51,73.06 L111.60,73.30 L111.70,73.55 L111.79,73.81 L111.88,74.07 L111.98,74.34 L112.07,74.62 L112.16,74.90 L112.26,75.20 L112.35,75.49 L112.44,75.80 L112.54,76.11 L112.63,76.43 L112.73,76.75 L112.82,77.08 L112.91,77.42 L113.01,77.76 L113.10,78.11 L113.19,78.47 L113.29,78.83 L113.38,79.20 L113.48,79.57 L113.57,79.95 L113.66,80.34 L113.76,80.73 L113.85,81.13 L113.94,81.53 L114.04,81.94 L114.13,82.35 L114.23,82.78 L114.32,83.20 L114.41,83.63 L114.51,84.07 L114.60,84.51 L114.69,84.96 L114.79,85.42 L114.88,85.88 L114.98,86.34 L115.07,86.81 L115.16,87.28 L115.26,87.77 L115.35,88.25 L115.44,88.74 L115.54,89.24 L115.63,89.74 L115.73,90.24 L115.82,90.75 L115.91,91.27 L116.01,91.79 L116.10,92.31 L116.19,92.84 L116.29,93.37 L116.38,93.91 L116.48,94.46 L116.57,95.00 L116.66,95.55 L116.76,96.11 L116.85,96.67 L116.94,97.23 L117.04,97.80 L117.13,98.37 L117.23,98.95 L117.32,99.53 L117.41,100.11 L117.51,100.70 L117.60,101.29 L117.69,101.89 L117.79,102.49 L117.88,103.09 L117.98,103.69 L118.07,104.30 L118.16,104.91 L118.26,105.53 L118.35,106.15 L118.44,106.77 L118.54,107.39 L118.63,108.02 L118.72,108.65 L118.82,109.28 L118.91,109.92 L119.01,110.55 L119.10,111.19 L119.19,111.84 L119.29,112.48 L119.38,113.13 L119.47,113.78 L119.57,114.43 L119.66,115.08 L119.76,115.74 L119.85,116.40 L119.94,117.06 L120.04,117.72 L120.13,118.38 L120.22,119.05 L120.32,119.71 L120.41,120.38 L120.51,121.05 L120.60,121.72 L120.69,122.40 L120.79,123.07 L120.88,123.75 L120.97,124.42 L121.07,125.10 L121.16,125.78 L121.26,126.46 L121.35,127.14 L121.44,127.83 L121.54,128.51 L121.63,129.20 L121.72,129.88 L121.82,130.57 L121.91,131.26 L122.01,131.95 L122.10,132.64 L122.19,133.33 L122.29,134.02 L122.38,134.71 L122.47,135.41 L122.57,136.10 L122.66,136.80 L122.76,137.49 L122.85,138.19 L122.94,138.89 L123.04,139.59 L123.13,140.29 L123.22,140.99 L123.32,141.69 L123.41,142.39 L123.51,143.09 L123.60,143.79 L123.69,144.49 L123.79,145.20 L123.88,145.90 L123.97,146.60 L124.07,147.31 L124.16,148.01 L124.26,148.72 L124.35,149.42 L124.44,150.13 L124.54,150.83 L124.63,151.54 L124.72,152.24 L124.82,152.95 L124.91,153.65 L125.01,154.36 L125.10,155.06 L125.19,155.77 L125.29,156.47 L125.38,157.18 L125.47,157.88 L125.57,158.59 L125.66,159.29 L125.75,160.00 L125.85,160.70 L125.94,161.40 L126.04,162.11 L126.13,162.81 L126.22,163.51 L126.32,164.21 L126.41,164.92 L126.50,165.62 L126.60,166.32 L126.69,167.02 L126.79,167.72 L126.88,168.42 L126.97,169.11 L127.07,169.81 L127.16,170.51 L127.25,171.20 L127.35,171.90 L127.44,172.60 L127.54,173.29 L127.63,173.98 L127.72,174.68 L127.82,175.37 L127.91,176.06 L128.00,176.75 L128.10,177.44 L128.19,178.13 L128.29,178.81 L128.38,179.50 L128.47,180.18 L128.57,180.87 L128.66,181.55 L128.75,182.23 L128.85,182.92 L128.94,183.60 L129.04,184.27 L129.13,184.95 L129.22,185.63 L130.01,191.23 L130.79,196.73 L131.57,202.14 L132.35,207.43 L133.13,212.61 L133.92,217.67 L134.70,222.59 L135.48,227.39 L136.26,232.05 L137.04,236.57 L137.83,240.95 L138.61,245.19 L139.39,249.28 L140.17,253.24 L140.96,257.06 L141.74,260.75 L142.52,264.32 L143.30,267.76 L144.08,271.09 L144.87,274.31 L145.65,277.42 L146.43,280.42 L147.21,283.33 L148.00,286.14 L148.78,288.86 L149.56,291.48 L150.34,294.02 L151.12,296.48 L151.91,298.85 L152.69,301.15 L153.47,303.37 L154.25,305.52 L155.04,307.60 L155.82,309.60 L156.60,311.54 L157.38,313.40 L158.16,315.19 L158.95,316.91 L159.73,318.56 L160.51,320.13 L161.29,321.63 L162.08,323.06 L162.86,324.42 L163.64,325.71 L164.42,326.93 L165.20,328.07 L165.99,329.15 L166.77,330.16 L167.55,331.11 L168.33,331.99 L169.12,332.80 L169.90,333.54 L170.68,334.23 L171.46,334.86 L172.24,335.44 L173.03,335.96 L173.81,336.45 L174.59,336.89 L175.37,337.28 L176.15,337.65 L176.94,337.98 L177.72,338.27 L178.50,338.54 L179.28,338.78 L180.07,339.00 L180.85,339.19 L181.63,339.36 L182.41,339.51 L183.19,339.65 L183.98,339.77 L184.76,339.87 L185.54,339.96 L186.32,340.04 L187.11,340.10 L187.89,340.15 L188.67,340.18 L189.45,340.21 L190.23,340.22 L191.02,340.23 L191.80,340.23 L192.58,340.21 L193.36,340.19 L194.15,340.16 L194.93,340.13 L195.71,340.09 L196.49,340.04 L197.27,339.98 L198.06,339.92 L198.84,339.86 L199.62,339.79 L200.40,339.71 L201.19,339.63 L201.97,339.55 L202.75,339.46 L203.53,339.37 L204.31,339.28 L205.10,339.18 L205.88,339.07 L206.66,338.97 L207.44,338.86 L208.22,338.75 L209.01,338.63 L209.79,338.51 L210.57,338.39 L211.35,338.27 L212.14,338.14 L212.92,338.01 L213.70,337.88 L214.48,337.74 L215.26,337.61 L216.05,337.47 L216.83,337.33 L217.61,337.18 L218.39,337.04 L219.18,336.89 L219.96,336.74 L220.74,336.59 L221.52,336.44 L222.30,336.28 L223.09,336.13 L223.87,335.97 L224.65,335.82 L225.43,335.66 L226.22,335.50 L227.00,335.34 L227.78,335.19 L228.56,335.03 L229.34,334.87 L230.13,334.72 L230.91,334.56 L231.69,334.41 L232.47,334.26 L233.26,334.11 L234.04,333.96 L234.82,333.81 L235.60,333.67 L236.38,333.53 L237.17,333.39 L237.95,333.25 L238.73,333.11 L239.51,332.98 L240.29,332.85 L241.08,332.72 L241.86,332.60 L242.64,332.47 L243.42,332.35 L244.21,332.24 L244.99,332.12 L245.77,332.01 L246.55,331.91 L247.33,331.80 L248.12,331.70 L248.90,331.60 L249.68,331.51 L250.46,331.42 L251.25,331.33 L252.03,331.24 L252.81,331.16 L253.59,331.08 L254.37,331.01 L255.16,330.93 L255.94,330.86 L256.72,330.80 L257.50,330.73 L258.29,330.67 L259.07,330.61 L259.85,330.55 L260.63,330.50 L261.41,330.45 L262.20,330.40 L262.98,330.35 L263.76,330.30 L264.54,330.26 L265.33,330.21 L266.11,330.17 L266.89,330.13 L267.67,330.09 L268.45,330.06 L269.24,330.02 L270.02,329.99 L270.80,329.96 L271.58,329.93 L272.37,329.90 L273.15,329.87 L273.93,329.85 L274.71,329.82 L275.49,329.80 L276.28,329.77 L277.06,329.75 L277.84,329.73 L278.62,329.71 L279.40,329.69 L280.19,329.68 L280.97,329.66 L281.75,329.64 L282.53,329.63 L283.32,329.61 L284.10,329.60 L284.88,329.58 L285.66,329.57 L286.44,329.56 L287.23,329.55 L288.01,329.54 L288.79,329.53 L289.57,329.52 L290.36,329.51 L291.14,329.50 L291.92,329.49 L292.70,329.49 L293.48,329.48 L294.27,329.47 L295.05,329.47 L295.83,329.46 L296.61,329.45 L297.40,329.45 L298.18,329.44 L298.96,329.44 L299.74,329.43 L300.52,329.43 L301.31,329.43 L302.09,329.42 L302.87,329.42 L303.65,329.42 L304.44,329.41 L305.22,329.41 L306.00,329.41 L306.78,329.41 L307.56,329.40 L308.35,329.40 L309.13,329.40 L309.91,329.40 L310.69,329.40 L311.47,329.39 L312.26,329.39 L313.04,329.39 L313.82,329.39 L314.60,329.39 L315.39,329.39 L316.17,329.39 L316.95,329.39 L317.73,329.39 L318.51,329.39 L319.30,329.39 L320.08,329.38 L320.86,329.38 L321.64,329.38 L322.43,329.38 L323.21,329.38 L323.99,329.38 L324.77,329.38 L325.55,329.38 L326.34,329.39 L327.12,329.39 L327.90,329.39 L328.68,329.39 L329.47,329.39 L330.25,329.39 L331.03,329.39 L331.81,329.39 L332.59,329.39 L333.38,329.39 L334.16,329.39 L334.94,329.39 L335.72,329.39 L336.51,329.40 L337.29,329.40 L338.07,329.40 L338.85,329.40 L339.63,329.40 L340.42,329.40 L341.20,329.40 L341.98,329.40 L342.76,329.41 L343.55,329.41 L344.33,329.41 L345.11,329.41 L345.89,329.41 L346.67,329.41 L347.46,329.42 L348.24,329.42 L349.02,329.42 L349.80,329.42 L350.58,329.42 L351.37,329.42 L352.15,329.43 L352.93,329.43 L353.71,329.43 L354.50,329.43 L355.28,329.43 L356.06,329.43 L356.84,329.44 L357.62,329.44 L358.41,329.44 L359.19,329.44 L359.97,329.44 L360.75,329.45 L361.54,329.45 L362.32,329.45 L363.10,329.45" stroke="#000000" stroke-width="1.5"/>
<path d="M46.7,329.8 L375.2,329.8" stroke="#cfcfcf" stroke-width="1.4" stroke-dasharray="1.9 2.88" stroke-linecap="butt"/>
<path d="M101.09,406.18 L101.21,403.14 L101.33,400.10 L101.45,397.08 L101.57,394.08 L101.69,391.08 L101.81,388.10 L101.93,385.14 L102.05,382.18 L102.17,379.24 L102.29,376.31 L102.40,373.39 L102.52,370.49 L102.64,367.60 L102.76,364.72 L102.87,361.85 L102.99,359.00 L103.11,356.16 L103.22,353.32 L103.34,350.51 L103.45,347.70 L103.57,344.91 L103.68,342.12 L103.80,339.35 L103.91,336.59 L104.03,333.84 L104.14,331.11 L104.26,328.38 L104.37,325.67 L104.48,322.97 L104.60,320.27 L104.71,317.52 L104.82,314.69 L104.94,311.77 L105.05,308.79 L105.16,305.74 L105.28,302.64 L105.39,299.49 L105.50,296.30 L105.62,293.07 L105.73,289.81 L105.84,286.52 L105.95,283.21 L106.07,279.89 L106.18,276.57 L106.29,273.24 L106.40,269.91 L106.51,266.60 L106.62,263.29 L106.73,260.01 L106.84,256.75 L106.95,253.51 L107.06,250.31 L107.17,247.15 L107.28,244.02 L107.39,240.94 L107.49,237.91 L107.60,234.94 L107.71,232.01 L107.82,229.14 L107.92,226.31 L108.03,223.54 L108.14,220.80 L108.24,218.12 L108.35,215.48 L108.45,212.88 L108.56,210.32 L108.67,207.80 L108.77,205.33 L108.88,202.89 L108.98,200.49 L109.09,198.13 L109.19,195.80 L109.30,193.51 L109.40,191.25 L109.51,189.02 L109.61,186.83 L109.72,184.67 L109.82,182.54 L109.93,180.43 L110.03,178.36 L110.14,176.32 L110.24,174.30 L110.35,172.31 L110.45,170.35 L110.56,168.41 L110.66,166.49 L110.77,164.60 L110.87,162.74 L110.98,160.89 L111.08,159.07 L111.19,157.27 L111.29,155.49 L111.40,153.73 L111.50,151.98 L111.61,150.26 L111.71,148.55 L111.82,146.86 L111.92,145.19 L112.03,143.53 L112.13,141.89 L112.24,140.26 L112.34,138.64 L112.45,137.05 L112.55,135.47 L112.66,133.90 L112.76,132.35 L112.87,130.82 L112.97,129.30 L113.08,127.80 L113.18,126.32 L113.29,124.85 L113.39,123.40 L113.50,121.96 L113.60,120.54 L113.71,119.14 L113.81,117.75 L113.92,116.38 L114.02,115.03 L114.13,113.70 L114.23,112.38 L114.34,111.08 L114.44,109.79 L114.55,108.52 L114.65,107.27 L114.76,106.04 L114.86,104.83 L114.97,103.63 L115.07,102.45 L115.18,101.29 L115.28,100.14 L115.39,99.02 L115.49,97.91 L115.60,96.82 L115.70,95.75 L115.81,94.70 L115.91,93.67 L116.02,92.66 L116.12,91.66 L116.23,90.69 L116.33,89.73 L116.44,88.80 L116.54,87.88 L116.65,86.98 L116.75,86.11 L116.86,85.25 L116.96,84.41 L117.07,83.60 L117.17,82.80 L117.28,82.03 L117.39,81.28 L117.49,80.54 L117.60,79.83 L117.70,79.14 L117.81,78.46 L117.91,77.81 L118.02,77.17 L118.12,76.55 L118.23,75.95 L118.33,75.37 L118.44,74.81 L118.54,74.26 L118.65,73.73 L118.75,73.22 L118.86,72.72 L118.96,72.24 L119.07,71.78 L119.17,71.34 L119.28,70.91 L119.38,70.49 L119.49,70.09 L119.59,69.71 L119.70,69.34 L119.80,68.98 L119.91,68.64 L120.01,68.32 L120.12,68.00 L120.22,67.71 L120.33,67.42 L120.43,67.15 L120.54,66.89 L120.64,66.64 L120.75,66.41 L120.85,66.19 L120.96,65.98 L121.06,65.78 L121.17,65.60 L121.27,65.43 L121.38,65.26 L121.48,65.11 L121.59,64.97 L121.69,64.84 L121.80,64.73 L121.90,64.62 L122.01,64.52 L122.11,64.43 L122.22,64.36 L122.32,64.29 L122.43,64.23 L122.53,64.18 L122.64,64.14 L122.74,64.11 L122.85,64.09 L122.95,64.07 L123.06,64.07 L123.16,64.07 L123.27,64.08 L123.37,64.10 L123.48,64.13 L123.58,64.16 L123.69,64.20 L123.79,64.25 L123.90,64.31 L124.00,64.38 L124.11,64.45 L124.21,64.53 L124.32,64.61 L124.42,64.71 L124.53,64.81 L124.63,64.91 L124.74,65.03 L124.84,65.15 L124.95,65.28 L125.05,65.41 L125.16,65.55 L125.26,65.70 L125.37,65.85 L125.47,66.01 L125.58,66.18 L125.68,66.35 L125.79,66.53 L125.89,66.71 L126.00,66.90 L126.10,67.10 L126.21,67.30 L126.31,67.51 L126.42,67.73 L126.52,67.95 L126.63,68.17 L126.73,68.41 L126.84,68.64 L126.94,68.89 L127.05,69.14 L127.15,69.39 L127.26,69.65 L127.36,69.92 L127.47,70.19 L127.57,70.46 L127.68,70.74 L127.78,71.03 L127.89,71.32 L127.99,71.62 L128.10,71.92 L128.20,72.23 L128.31,72.54 L128.41,72.86 L128.52,73.18 L128.62,73.51 L128.73,73.84 L128.83,74.18 L128.94,74.52 L129.04,74.87 L129.15,75.22 L129.25,75.57 L129.36,75.94 L129.46,76.30 L129.57,76.67 L129.67,77.05 L129.78,77.43 L129.88,77.81 L129.99,78.20 L130.09,78.59 L130.20,78.99 L130.30,79.39 L130.41,79.80 L130.51,80.21 L130.62,80.63 L130.72,81.05 L130.83,81.47 L130.93,81.90 L131.04,82.33 L131.14,82.77 L131.25,83.21 L131.35,83.66 L131.46,84.10 L131.56,84.56 L131.67,85.01 L131.78,85.48 L131.88,85.94 L131.99,86.41 L132.09,86.88 L132.20,87.36 L132.30,87.84 L132.41,88.32 L132.51,88.81 L132.62,89.30 L132.72,89.80 L132.83,90.30 L132.93,90.80 L133.04,91.30 L133.14,91.81 L133.25,92.32 L133.35,92.84 L133.46,93.36 L133.56,93.88 L133.67,94.41 L133.77,94.93 L133.88,95.46 L133.98,96.00 L134.09,96.54 L134.19,97.08 L134.30,97.62 L134.40,98.16 L134.51,98.71 L134.61,99.26 L134.72,99.82 L134.82,100.38 L134.93,100.93 L135.03,101.50 L135.14,102.06 L135.24,102.63 L135.35,103.19 L135.45,103.77 L135.56,104.34 L135.66,104.91 L135.77,105.49 L135.87,106.07 L135.98,106.65 L136.08,107.24 L136.19,107.82 L136.29,108.41 L136.40,109.00 L136.50,109.59 L136.61,110.18 L136.71,110.78 L136.82,111.37 L136.92,111.97 L137.03,112.57 L137.13,113.17 L137.24,113.77 L137.34,114.38 L137.45,114.98 L137.55,115.59 L137.66,116.20 L137.76,116.80 L137.87,117.41 L137.97,118.03 L138.08,118.64 L138.18,119.25 L138.29,119.87 L138.39,120.48 L138.50,121.10 L138.60,121.72 L138.71,122.33 L138.81,122.95 L138.92,123.57 L139.02,124.20 L139.13,124.82 L139.23,125.44 L139.34,126.07 L139.44,126.69 L139.55,127.32 L139.65,127.94 L139.76,128.57 L139.86,129.20 L139.97,129.83 L140.07,130.46 L140.18,131.09 L140.28,131.72 L140.39,132.35 L140.49,132.98 L140.60,133.61 L140.70,134.24 L140.81,134.88 L140.91,135.51 L141.02,136.15 L141.12,136.78 L141.23,137.42 L141.33,138.06 L141.44,138.69 L141.54,139.33 L141.65,139.97 L141.75,140.61 L141.86,141.24 L141.96,141.88 L142.07,142.52 L142.17,143.16 L142.28,143.80 L142.38,144.44 L142.49,145.08 L142.59,145.72 L142.70,146.36 L142.80,147.00 L142.91,147.64 L143.01,148.28 L143.12,148.92 L143.22,149.57 L143.33,150.21 L143.43,150.85 L143.54,151.49 L144.27,155.96 L145.01,160.43 L145.74,164.88 L146.48,169.30 L147.21,173.70 L147.95,178.06 L148.68,182.38 L149.41,186.65 L150.15,190.87 L150.88,195.04 L151.62,199.14 L152.35,203.19 L153.09,207.17 L153.82,211.08 L154.55,214.93 L155.29,218.70 L156.02,222.39 L156.76,226.01 L157.49,229.55 L158.23,233.02 L158.96,236.40 L159.69,239.71 L160.43,242.93 L161.16,246.08 L161.90,249.14 L162.63,252.12 L163.37,255.03 L164.10,257.87 L164.83,260.63 L165.57,263.32 L166.30,265.95 L167.04,268.50 L167.77,271.00 L168.51,273.43 L169.24,275.80 L169.97,278.11 L170.71,280.36 L171.44,282.56 L172.18,284.70 L172.91,286.79 L173.65,288.83 L174.38,290.82 L175.11,292.75 L175.85,294.64 L176.58,296.49 L177.32,298.28 L178.05,300.04 L178.79,301.75 L179.52,303.42 L180.26,305.04 L180.99,306.63 L181.72,308.18 L182.46,309.68 L183.19,311.15 L183.93,312.58 L184.66,313.96 L185.40,315.30 L186.13,316.61 L186.86,317.87 L187.60,319.09 L188.33,320.27 L189.07,321.41 L189.80,322.50 L190.54,323.56 L191.27,324.58 L192.00,325.55 L192.74,326.49 L193.47,327.39 L194.21,328.24 L194.94,329.06 L195.68,329.83 L196.41,330.53 L197.14,331.20 L197.88,331.83 L198.61,332.43 L199.35,332.99 L200.08,333.52 L200.82,334.02 L201.55,334.48 L202.28,334.92 L203.02,335.32 L203.75,335.70 L204.49,336.06 L205.22,336.39 L205.96,336.70 L206.69,336.99 L207.42,337.26 L208.16,337.51 L208.89,337.74 L209.63,337.96 L210.36,338.16 L211.10,338.34 L211.83,338.51 L212.56,338.67 L213.30,338.81 L214.03,338.95 L214.77,339.07 L215.50,339.18 L216.24,339.28 L216.97,339.38 L217.71,339.46 L218.44,339.54 L219.17,339.60 L219.91,339.66 L220.64,339.71 L221.38,339.76 L222.11,339.80 L222.85,339.83 L223.58,339.86 L224.31,339.88 L225.05,339.89 L225.78,339.90 L226.52,339.90 L227.25,339.90 L227.99,339.89 L228.72,339.88 L229.45,339.87 L230.19,339.85 L230.92,339.82 L231.66,339.80 L232.39,339.77 L233.13,339.73 L233.86,339.69 L234.59,339.65 L235.33,339.61 L236.06,339.56 L236.80,339.51 L237.53,339.46 L238.27,339.41 L239.00,339.35 L239.73,339.29 L240.47,339.23 L241.20,339.17 L241.94,339.10 L242.67,339.04 L243.41,338.97 L244.14,338.90 L244.87,338.82 L245.61,338.75 L246.34,338.67 L247.08,338.59 L247.81,338.51 L248.55,338.43 L249.28,338.34 L250.02,338.26 L250.75,338.17 L251.48,338.08 L252.22,337.99 L252.95,337.90 L253.69,337.81 L254.42,337.71 L255.16,337.62 L255.89,337.52 L256.62,337.42 L257.36,337.32 L258.09,337.22 L258.83,337.12 L259.56,337.02 L260.30,336.91 L261.03,336.81 L261.76,336.70 L262.50,336.59 L263.23,336.48 L263.97,336.38 L264.70,336.27 L265.44,336.15 L266.17,336.04 L266.90,335.93 L267.64,335.82 L268.37,335.70 L269.11,335.59 L269.84,335.48 L270.58,335.36 L271.31,335.25 L272.04,335.14 L272.78,335.02 L273.51,334.91 L274.25,334.80 L274.98,334.68 L275.72,334.57 L276.45,334.46 L277.18,334.35 L277.92,334.24 L278.65,334.13 L279.39,334.02 L280.12,333.91 L280.86,333.81 L281.59,333.70 L282.33,333.59 L283.06,333.49 L283.79,333.39 L284.53,333.29 L285.26,333.19 L286.00,333.09 L286.73,332.99 L287.47,332.89 L288.20,332.80 L288.93,332.71 L289.67,332.61 L290.40,332.52 L291.14,332.43 L291.87,332.35 L292.61,332.26 L293.34,332.18 L294.07,332.09 L294.81,332.01 L295.54,331.93 L296.28,331.86 L297.01,331.78 L297.75,331.70 L298.48,331.63 L299.21,331.56 L299.95,331.49 L300.68,331.42 L301.42,331.36 L302.15,331.29 L302.89,331.23 L303.62,331.17 L304.35,331.11 L305.09,331.06 L305.82,331.00 L306.56,330.95 L307.29,330.89 L308.03,330.84 L308.76,330.79 L309.49,330.75 L310.23,330.70 L310.96,330.65 L311.70,330.61 L312.43,330.57 L313.17,330.53 L313.90,330.49 L314.64,330.45 L315.37,330.41 L316.10,330.37 L316.84,330.34 L317.57,330.30 L318.31,330.27 L319.04,330.24 L319.78,330.21 L320.51,330.18 L321.24,330.15 L321.98,330.12 L322.71,330.09 L323.45,330.07 L324.18,330.04 L324.92,330.02 L325.65,329.99 L326.38,329.97 L327.12,329.95 L327.85,329.92 L328.59,329.90 L329.32,329.88 L330.06,329.86 L330.79,329.84 L331.52,329.82 L332.26,329.81 L332.99,329.79 L333.73,329.77 L334.46,329.76 L335.20,329.74 L335.93,329.73 L336.66,329.71 L337.40,329.70 L338.13,329.69 L338.87,329.67 L339.60,329.66 L340.34,329.65 L341.07,329.64 L341.80,329.63 L342.54,329.61 L343.27,329.60 L344.01,329.59 L344.74,329.58 L345.48,329.57 L346.21,329.57 L346.95,329.56 L347.68,329.55 L348.41,329.54 L349.15,329.53 L349.88,329.52 L350.62,329.52 L351.35,329.51 L352.09,329.50 L352.82,329.50 L353.55,329.49 L354.29,329.49 L355.02,329.48 L355.76,329.47 L356.49,329.47 L357.23,329.46 L357.96,329.46 L358.69,329.46 L359.43,329.45 L360.16,329.45 L360.90,329.44 L361.63,329.44 L362.37,329.44 L363.10,329.43" stroke="#ff0000" stroke-width="1.5"/>
<path d="M125.27,407.45 L125.37,404.83 L125.47,402.21 L125.57,399.61 L125.67,397.01 L125.77,394.42 L125.87,391.84 L125.97,389.27 L126.07,386.72 L126.17,384.17 L126.27,381.63 L126.38,379.10 L126.48,376.57 L126.58,374.06 L126.69,371.56 L126.79,369.07 L126.90,366.58 L127.01,364.10 L127.11,361.64 L127.22,359.18 L127.33,356.73 L127.43,354.29 L127.54,351.86 L127.65,349.44 L127.76,347.02 L127.87,344.62 L127.98,342.22 L128.09,339.83 L128.20,337.45 L128.31,335.08 L128.42,332.72 L128.53,330.36 L128.65,328.02 L128.76,325.68 L128.87,323.35 L128.99,321.03 L129.10,318.69 L129.21,316.28 L129.33,313.82 L129.44,311.30 L129.55,308.73 L129.67,306.12 L129.78,303.46 L129.90,300.76 L130.01,298.03 L130.13,295.27 L130.24,292.49 L130.36,289.68 L130.47,286.85 L130.59,284.01 L130.70,281.15 L130.82,278.29 L130.94,275.42 L131.06,272.56 L131.17,269.69 L131.29,266.83 L131.41,263.98 L131.53,261.13 L131.65,258.31 L131.77,255.50 L131.90,252.71 L132.02,249.94 L132.14,247.20 L132.26,244.49 L132.39,241.81 L132.51,239.17 L132.64,236.56 L132.76,233.99 L132.89,231.46 L133.01,228.96 L133.14,226.50 L133.27,224.08 L133.39,221.69 L133.52,219.33 L133.65,217.01 L133.78,214.72 L133.91,212.46 L134.04,210.24 L134.17,208.04 L134.30,205.87 L134.43,203.73 L134.56,201.62 L134.69,199.54 L134.82,197.49 L134.95,195.46 L135.08,193.46 L135.21,191.48 L135.34,189.53 L135.47,187.60 L135.60,185.70 L135.73,183.82 L135.87,181.96 L136.00,180.13 L136.13,178.32 L136.26,176.52 L136.39,174.75 L136.52,173.00 L136.65,171.27 L136.78,169.56 L136.91,167.87 L137.04,166.19 L137.17,164.54 L137.30,162.90 L137.43,161.28 L137.57,159.67 L137.70,158.09 L137.83,156.51 L137.96,154.96 L138.09,153.42 L138.22,151.89 L138.35,150.38 L138.48,148.88 L138.61,147.39 L138.74,145.92 L138.87,144.46 L139.00,143.01 L139.13,141.57 L139.27,140.15 L139.40,138.73 L139.53,137.33 L139.66,135.94 L139.79,134.55 L139.92,133.19 L140.05,131.83 L140.18,130.48 L140.31,129.15 L140.44,127.82 L140.57,126.51 L140.70,125.21 L140.84,123.93 L140.97,122.65 L141.10,121.39 L141.23,120.14 L141.36,118.90 L141.49,117.67 L141.62,116.45 L141.75,115.25 L141.88,114.06 L142.01,112.88 L142.14,111.71 L142.27,110.56 L142.40,109.42 L142.54,108.29 L142.67,107.17 L142.80,106.06 L142.93,104.97 L143.06,103.89 L143.19,102.82 L143.32,101.77 L143.45,100.73 L143.58,99.70 L143.71,98.69 L143.84,97.68 L143.97,96.69 L144.10,95.72 L144.24,94.76 L144.37,93.81 L144.50,92.87 L144.63,91.95 L144.76,91.04 L144.89,90.15 L145.02,89.26 L145.15,88.40 L145.28,87.55 L145.41,86.71 L145.54,85.88 L145.67,85.07 L145.80,84.28 L145.94,83.50 L146.07,82.73 L146.20,81.98 L146.33,81.24 L146.46,80.52 L146.59,79.81 L146.72,79.12 L146.85,78.44 L146.98,77.78 L147.11,77.13 L147.24,76.50 L147.37,75.88 L147.51,75.27 L147.64,74.68 L147.77,74.11 L147.90,73.55 L148.03,73.00 L148.16,72.47 L148.29,71.94 L148.42,71.44 L148.55,70.94 L148.68,70.46 L148.81,69.99 L148.94,69.54 L149.07,69.09 L149.21,68.66 L149.34,68.24 L149.47,67.84 L149.60,67.44 L149.73,67.06 L149.86,66.68 L149.99,66.32 L150.12,65.97 L150.25,65.64 L150.38,65.31 L150.51,64.99 L150.64,64.69 L150.77,64.39 L150.91,64.11 L151.04,63.83 L151.17,63.57 L151.30,63.31 L151.43,63.07 L151.56,62.83 L151.69,62.61 L151.82,62.39 L151.95,62.18 L152.08,61.99 L152.21,61.80 L152.34,61.62 L152.48,61.45 L152.61,61.29 L152.74,61.13 L152.87,60.99 L153.00,60.85 L153.13,60.72 L153.26,60.60 L153.39,60.49 L153.52,60.38 L153.65,60.28 L153.78,60.19 L153.91,60.11 L154.04,60.04 L154.18,59.97 L154.31,59.91 L154.44,59.85 L154.57,59.81 L154.70,59.77 L154.83,59.73 L154.96,59.71 L155.09,59.69 L155.22,59.67 L155.35,59.66 L155.48,59.66 L155.61,59.67 L155.74,59.68 L155.88,59.69 L156.01,59.71 L156.14,59.74 L156.27,59.77 L156.40,59.81 L156.53,59.86 L156.66,59.91 L156.79,59.96 L156.92,60.02 L157.05,60.09 L157.18,60.16 L157.31,60.23 L157.44,60.31 L157.58,60.40 L157.71,60.49 L157.84,60.59 L157.97,60.69 L158.10,60.79 L158.23,60.90 L158.36,61.02 L158.49,61.14 L158.62,61.26 L158.75,61.39 L158.88,61.53 L159.01,61.67 L159.15,61.81 L159.28,61.96 L159.41,62.11 L159.54,62.27 L159.67,62.43 L159.80,62.60 L159.93,62.77 L160.06,62.94 L160.19,63.12 L160.32,63.31 L160.45,63.49 L160.58,63.69 L160.71,63.88 L160.85,64.08 L160.98,64.29 L161.11,64.50 L161.24,64.71 L161.37,64.93 L161.50,65.15 L161.63,65.37 L161.76,65.60 L161.89,65.83 L162.02,66.07 L162.15,66.31 L162.28,66.55 L162.41,66.80 L162.55,67.05 L162.68,67.31 L162.81,67.57 L162.94,67.83 L163.07,68.10 L163.20,68.37 L163.33,68.65 L163.46,68.92 L163.59,69.21 L163.72,69.49 L163.85,69.78 L163.98,70.07 L164.11,70.37 L164.25,70.67 L164.38,70.97 L164.51,71.28 L164.64,71.59 L164.77,71.90 L164.90,72.22 L165.03,72.54 L165.16,72.86 L165.29,73.19 L165.42,73.52 L165.55,73.85 L165.68,74.19 L165.82,74.53 L165.95,74.87 L166.08,75.22 L166.21,75.57 L166.34,75.92 L166.47,76.28 L166.60,76.64 L166.73,77.00 L166.86,77.37 L166.99,77.74 L167.12,78.11 L167.25,78.49 L167.38,78.86 L167.52,79.24 L167.65,79.63 L167.78,80.02 L167.91,80.41 L168.04,80.80 L168.17,81.20 L168.30,81.59 L168.43,82.00 L168.56,82.40 L168.69,82.81 L168.82,83.22 L168.95,83.63 L169.08,84.05 L169.22,84.46 L169.35,84.88 L169.48,85.31 L169.61,85.73 L169.74,86.16 L169.87,86.59 L170.00,87.03 L170.13,87.46 L170.26,87.90 L170.39,88.35 L170.52,88.79 L170.65,89.23 L170.78,89.68 L170.92,90.13 L171.05,90.59 L171.18,91.04 L171.31,91.50 L171.44,91.96 L171.57,92.42 L171.70,92.89 L171.83,93.35 L171.96,93.82 L172.09,94.29 L172.22,94.76 L172.35,95.24 L172.49,95.71 L172.62,96.19 L172.75,96.67 L172.88,97.15 L173.01,97.64 L173.14,98.12 L173.27,98.61 L173.40,99.10 L173.53,99.59 L173.66,100.08 L173.79,100.58 L173.92,101.07 L174.05,101.57 L174.19,102.07 L174.32,102.57 L174.45,103.07 L174.58,103.57 L174.71,104.08 L174.84,104.58 L174.97,105.09 L175.10,105.60 L175.23,106.11 L175.36,106.62 L175.49,107.13 L175.62,107.65 L175.75,108.16 L175.89,108.68 L176.02,109.19 L176.15,109.71 L176.77,112.20 L177.40,114.71 L178.02,117.25 L178.65,119.79 L179.27,122.36 L179.90,124.94 L180.52,127.53 L181.15,130.13 L181.77,132.74 L182.40,135.36 L183.03,137.99 L183.65,140.62 L184.28,143.26 L184.90,145.90 L185.53,148.53 L186.15,151.17 L186.78,153.81 L187.40,156.44 L188.03,159.07 L188.65,161.69 L189.28,164.30 L189.90,166.90 L190.53,169.50 L191.15,172.08 L191.78,174.65 L192.40,177.20 L193.03,179.74 L193.65,182.27 L194.28,184.78 L194.90,187.27 L195.53,189.74 L196.16,192.19 L196.78,194.63 L197.41,197.04 L198.03,199.43 L198.66,201.80 L199.28,204.15 L199.91,206.47 L200.53,208.77 L201.16,211.05 L201.78,213.30 L202.41,215.53 L203.03,217.73 L203.66,219.91 L204.28,222.06 L204.91,224.18 L205.53,226.28 L206.16,228.36 L206.78,230.40 L207.41,232.42 L208.04,234.41 L208.66,236.37 L209.29,238.31 L209.91,240.22 L210.54,242.10 L211.16,243.95 L211.79,245.78 L212.41,247.58 L213.04,249.35 L213.66,251.09 L214.29,252.81 L214.91,254.51 L215.54,256.18 L216.16,257.82 L216.79,259.44 L217.41,261.04 L218.04,262.61 L218.66,264.16 L219.29,265.68 L219.92,267.19 L220.54,268.67 L221.17,270.13 L221.79,271.57 L222.42,272.99 L223.04,274.38 L223.67,275.76 L224.29,277.12 L224.92,278.45 L225.54,279.77 L226.17,281.07 L226.79,282.35 L227.42,283.61 L228.04,284.85 L228.67,286.08 L229.29,287.28 L229.92,288.47 L230.54,289.65 L231.17,290.80 L231.80,291.94 L232.42,293.06 L233.05,294.17 L233.67,295.26 L234.30,296.33 L234.92,297.39 L235.55,298.44 L236.17,299.47 L236.80,300.48 L237.42,301.48 L238.05,302.46 L238.67,303.44 L239.30,304.39 L239.92,305.34 L240.55,306.27 L241.17,307.18 L241.80,308.09 L242.42,308.98 L243.05,309.85 L243.68,310.71 L244.30,311.56 L244.93,312.39 L245.55,313.21 L246.18,314.02 L246.80,314.81 L247.43,315.59 L248.05,316.35 L248.68,317.10 L249.30,317.83 L249.93,318.55 L250.55,319.26 L251.18,319.95 L251.80,320.63 L252.43,321.30 L253.05,321.95 L253.68,322.59 L254.30,323.21 L254.93,323.82 L255.56,324.42 L256.18,325.00 L256.81,325.57 L257.43,326.12 L258.06,326.66 L258.68,327.19 L259.31,327.70 L259.93,328.20 L260.56,328.69 L261.18,329.17 L261.81,329.63 L262.43,330.08 L263.06,330.53 L263.68,330.96 L264.31,331.37 L264.93,331.78 L265.56,332.17 L266.18,332.54 L266.81,332.91 L267.44,333.26 L268.06,333.60 L268.69,333.93 L269.31,334.24 L269.94,334.55 L270.56,334.84 L271.19,335.12 L271.81,335.39 L272.44,335.65 L273.06,335.90 L273.69,336.15 L274.31,336.38 L274.94,336.60 L275.56,336.82 L276.19,337.02 L276.81,337.22 L277.44,337.41 L278.06,337.59 L278.69,337.77 L279.32,337.94 L279.94,338.10 L280.57,338.25 L281.19,338.40 L281.82,338.54 L282.44,338.68 L283.07,338.81 L283.69,338.93 L284.32,339.05 L284.94,339.16 L285.57,339.27 L286.19,339.37 L286.82,339.47 L287.44,339.56 L288.07,339.65 L288.69,339.74 L289.32,339.82 L289.94,339.90 L290.57,339.97 L291.20,340.04 L291.82,340.10 L292.45,340.17 L293.07,340.23 L293.70,340.28 L294.32,340.33 L294.95,340.38 L295.57,340.43 L296.20,340.47 L296.82,340.51 L297.45,340.55 L298.07,340.59 L298.70,340.62 L299.32,340.65 L299.95,340.68 L300.57,340.70 L301.20,340.73 L301.82,340.75 L302.45,340.76 L303.08,340.78 L303.70,340.79 L304.33,340.80 L304.95,340.81 L305.58,340.82 L306.20,340.82 L306.83,340.83 L307.45,340.83 L308.08,340.83 L308.70,340.83 L309.33,340.82 L309.95,340.82 L310.58,340.81 L311.20,340.80 L311.83,340.79 L312.45,340.78 L313.08,340.76 L313.70,340.75 L314.33,340.73 L314.95,340.72 L315.58,340.70 L316.21,340.68 L316.83,340.65 L317.46,340.63 L318.08,340.61 L318.71,340.58 L319.33,340.56 L319.96,340.53 L320.58,340.50 L321.21,340.47 L321.83,340.44 L322.46,340.41 L323.08,340.38 L323.71,340.34 L324.33,340.31 L324.96,340.28 L325.58,340.24 L326.21,340.20 L326.83,340.17 L327.46,340.13 L328.09,340.09 L328.71,340.05 L329.34,340.01 L329.96,339.97 L330.59,339.92 L331.21,339.88 L331.84,339.84 L332.46,339.79 L333.09,339.75 L333.71,339.70 L334.34,339.65 L334.96,339.61 L335.59,339.56 L336.21,339.51 L336.84,339.46 L337.46,339.41 L338.09,339.36 L338.71,339.31 L339.34,339.26 L339.97,339.20 L340.59,339.15 L341.22,339.10 L341.84,339.04 L342.47,338.99 L343.09,338.93 L343.72,338.88 L344.34,338.82 L344.97,338.76 L345.59,338.71 L346.22,338.65 L346.84,338.59 L347.47,338.53 L348.09,338.47 L348.72,338.41 L349.34,338.35 L349.97,338.29 L350.59,338.23 L351.22,338.17 L351.85,338.10 L352.47,338.04 L353.10,337.98 L353.72,337.91 L354.35,337.85 L354.97,337.78 L355.60,337.72 L356.22,337.65 L356.85,337.59 L357.47,337.52 L358.10,337.46 L358.72,337.39 L359.35,337.32 L359.97,337.25 L360.60,337.19 L361.22,337.12 L361.85,337.05 L362.47,336.98 L363.10,336.91" stroke="#0000ff" stroke-width="1.5"/>
</g>
<g transform="translate(46.50,361.60) scale(0.8845,1)" fill="#000"><text x="0.00" y="0" font-family="Liberation Sans, sans-serif" font-size="12.2">0.0</text></g>
<g transform="translate(94.77,361.60) scale(0.8845,1)" fill="#000"><text x="0.00" y="0" font-family="Liberation Sans, sans-serif" font-size="12.2">0.5</text></g>
<g transform="translate(143.03,361.60) scale(0.8845,1)" fill="#000"><path transform="translate(0.00,0) scale(12.2,-11.675)" d="M0.3726,0 H0.2847 V0.560 Q0.2529,0.5298 0.2014,0.4995 Q0.150,0.469 0.1089,0.454 V0.539 Q0.1826,0.5737 0.2378,0.623 Q0.293,0.672 0.316,0.71875 H0.3726 Z"/><text x="6.78" y="0" font-family="Liberation Sans, sans-serif" font-size="12.2">.0</text></g>
<g transform="translate(191.30,361.60) scale(0.8845,1)" fill="#000"><path transform="translate(0.00,0) scale(12.2,-11.675)" d="M0.3726,0 H0.2847 V0.560 Q0.2529,0.5298 0.2014,0.4995 Q0.150,0.469 0.1089,0.454 V0.539 Q0.1826,0.5737 0.2378,0.623 Q0.293,0.672 0.316,0.71875 H0.3726 Z"/><text x="6.78" y="0" font-family="Liberation Sans, sans-serif" font-size="12.2">.5</text></g>
<g transform="translate(239.56,361.60) scale(0.8845,1)" fill="#000"><text x="0.00" y="0" font-family="Liberation Sans, sans-serif" font-size="12.2">2.0</text></g>
<g transform="translate(287.82,361.60) scale(0.8845,1)" fill="#000"><text x="0.00" y="0" font-family="Liberation Sans, sans-serif" font-size="12.2">2.5</text></g>
<g transform="translate(336.09,361.60) scale(0.8845,1)" fill="#000"><text x="0.00" y="0" font-family="Liberation Sans, sans-serif" font-size="12.2">3.0</text></g>
<g transform="translate(33.6,330.00) rotate(-90)"><g transform="translate(-7.50,0.00) scale(0.8845,1)" fill="#000"><text x="0.00" y="0" font-family="Liberation Sans, sans-serif" font-size="12.2">0.0</text></g></g>
<g transform="translate(33.6,275.54) rotate(-90)"><g transform="translate(-7.50,0.00) scale(0.8845,1)" fill="#000"><text x="0.00" y="0" font-family="Liberation Sans, sans-serif" font-size="12.2">0.2</text></g></g>
<g transform="translate(33.6,221.08) rotate(-90)"><g transform="translate(-7.50,0.00) scale(0.8845,1)" fill="#000"><text x="0.00" y="0" font-family="Liberation Sans, sans-serif" font-size="12.2">0.4</text></g></g>
<g transform="translate(33.6,166.62) rotate(-90)"><g transform="translate(-7.50,0.00) scale(0.8845,1)" fill="#000"><text x="0.00" y="0" font-family="Liberation Sans, sans-serif" font-size="12.2">0.6</text></g></g>
<g transform="translate(33.6,112.16) rotate(-90)"><g transform="translate(-7.50,0.00) scale(0.8845,1)" fill="#000"><text x="0.00" y="0" font-family="Liberation Sans, sans-serif" font-size="12.2">0.8</text></g></g>
<g transform="translate(33.6,57.70) rotate(-90)"><g transform="translate(-7.50,0.00) scale(0.8845,1)" fill="#000"><path transform="translate(0.00,0) scale(12.2,-11.675)" d="M0.3726,0 H0.2847 V0.560 Q0.2529,0.5298 0.2014,0.4995 Q0.150,0.469 0.1089,0.454 V0.539 Q0.1826,0.5737 0.2378,0.623 Q0.293,0.672 0.316,0.71875 H0.3726 Z"/><text x="6.78" y="0" font-family="Liberation Sans, sans-serif" font-size="12.2">.0</text></g></g>
<text transform="translate(205.28,371.5) scale(0.981,1)" font-family="Liberation Serif, serif" font-size="18.8">ω</text>
<g transform="translate(19.2,240.1) rotate(-90)"><g transform="translate(-1.62,0.00) scale(1.0000,1)" fill="#000"><path transform="translate(0.00,0) scale(16.3,-15.599)" d="M0.3726,0 H0.2847 V0.560 Q0.2529,0.5298 0.2014,0.4995 Q0.150,0.469 0.1089,0.454 V0.539 Q0.1826,0.5737 0.2378,0.623 Q0.293,0.672 0.316,0.71875 H0.3726 Z"/></g></g>
<text transform="translate(19.2,240.1) rotate(-90) translate(6.61,0) scale(1.078,1)" font-family="Liberation Sans, sans-serif" font-size="16.3">0</text>
<text transform="translate(19.2,240.1) rotate(-90) translate(17.14,-9.0) scale(1.029,1)" font-family="Liberation Sans, sans-serif" font-size="10.8">4</text>
<text transform="translate(19.2,240.1) rotate(-90) translate(24.25,-0.4) scale(0.988,1)" font-family="Liberation Sans, sans-serif" font-size="18.7">(</text>
<text transform="translate(19.2,240.1) rotate(-90) translate(31.57,0) scale(0.980,1)" font-family="Liberation Sans, sans-serif" font-size="16.3">S</text>
<text transform="translate(19.2,240.1) rotate(-90) translate(42.42,-0.4) scale(0.928,1)" font-family="Liberation Sans, sans-serif" font-size="18.7">(</text>
<text transform="translate(19.2,240.1) rotate(-90) translate(49.11,0) scale(0.944,1)" font-family="Liberation Serif, serif" font-size="18.8">ω</text>
<text transform="translate(19.2,240.1) rotate(-90) translate(61.70,-0.4) scale(0.928,1)" font-family="Liberation Sans, sans-serif" font-size="18.7">)</text>
<text transform="translate(19.2,240.1) rotate(-90) translate(69.65,0) scale(1.061,1)" font-family="Liberation Sans, sans-serif" font-size="16.3">−</text>
<text transform="translate(19.2,240.1) rotate(-90) translate(80.88,0) scale(1.365,1)" font-family="Liberation Sans, sans-serif" font-size="16.3">f</text>
<text transform="translate(19.2,240.1) rotate(-90) translate(88.00,-0.4) scale(0.948,1)" font-family="Liberation Sans, sans-serif" font-size="18.7">)</text>
<path d="M309.9,58.40 L327.5,58.40" stroke="#00ff00" stroke-width="1.0" fill="none"/>
<text transform="translate(336.34,60.40) scale(0.984,1)" font-family="Liberation Sans, sans-serif" font-size="8.6">λ</text>
<text transform="translate(340.61,61.80) scale(1.072,1)" font-family="Liberation Sans, sans-serif" font-size="5.0">I</text>
<text transform="translate(344.44,60.40) scale(1.101,1)" font-family="Liberation Sans, sans-serif" font-size="8.6">=</text>
<g transform="translate(352.94,60.40) scale(1.0640,1)" fill="#000"><text x="0.00" y="0" font-family="Liberation Sans, sans-serif" font-size="8.6">0.8</text></g>
<path d="M309.9,69.70 L327.5,69.70" stroke="#a52a2a" stroke-width="1.0" fill="none"/>
<text transform="translate(336.34,71.70) scale(0.984,1)" font-family="Liberation Sans, sans-serif" font-size="8.6">λ</text>
<text transform="translate(340.61,73.10) scale(1.072,1)" font-family="Liberation Sans, sans-serif" font-size="5.0">I</text>
<text transform="translate(344.44,71.70) scale(1.101,1)" font-family="Liberation Sans, sans-serif" font-size="8.6">=</text>
<g transform="translate(352.94,71.70) scale(1.0640,1)" fill="#000"><text x="0.00" y="0" font-family="Liberation Sans, sans-serif" font-size="8.6">0.5</text></g>
<path d="M309.9,81.00 L327.5,81.00" stroke="#0000ff" stroke-width="1.0" fill="none"/>
<text transform="translate(336.34,83.00) scale(0.984,1)" font-family="Liberation Sans, sans-serif" font-size="8.6">λ</text>
<text transform="translate(340.61,84.40) scale(1.072,1)" font-family="Liberation Sans, sans-serif" font-size="5.0">I</text>
<text transform="translate(344.44,83.00) scale(1.101,1)" font-family="Liberation Sans, sans-serif" font-size="8.6">=</text>
<g transform="translate(352.94,83.00) scale(1.0640,1)" fill="#000"><text x="0.00" y="0" font-family="Liberation Sans, sans-serif" font-size="8.6">0.33</text></g>
<path d="M309.9,92.30 L327.5,92.30" stroke="#bebebe" stroke-width="1.0" fill="none"/>
<text transform="translate(336.34,94.30) scale(0.984,1)" font-family="Liberation Sans, sans-serif" font-size="8.6">λ</text>
<text transform="translate(340.61,95.70) scale(1.072,1)" font-family="Liberation Sans, sans-serif" font-size="5.0">I</text>
<text transform="translate(344.44,94.30) scale(1.101,1)" font-family="Liberation Sans, sans-serif" font-size="8.6">=</text>
<g transform="translate(352.94,94.30) scale(1.0640,1)" fill="#000"><text x="0.00" y="0" font-family="Liberation Sans, sans-serif" font-size="8.6">0.2</text></g>
<path d="M309.9,103.60 L327.5,103.60" stroke="#ff0000" stroke-width="1.0" fill="none"/>
<text transform="translate(336.34,105.60) scale(0.984,1)" font-family="Liberation Sans, sans-serif" font-size="8.6">λ</text>
<text transform="translate(340.61,107.00) scale(1.072,1)" font-family="Liberation Sans, sans-serif" font-size="5.0">I</text>
<text transform="translate(344.44,105.60) scale(1.101,1)" font-family="Liberation Sans, sans-serif" font-size="8.6">=</text>
<g transform="translate(352.94,105.60) scale(1.0640,1)" fill="#000"><text x="0.00" y="0" font-family="Liberation Sans, sans-serif" font-size="8.6">0.</text><path transform="translate(7.17,0) scale(8.6,-8.230)" d="M0.3726,0 H0.2847 V0.560 Q0.2529,0.5298 0.2014,0.4995 Q0.150,0.469 0.1089,0.454 V0.539 Q0.1826,0.5737 0.2378,0.623 Q0.293,0.672 0.316,0.71875 H0.3726 Z"/></g>
<path d="M309.9,114.90 L327.5,114.90" stroke="#000000" stroke-width="1.0" fill="none"/>
<text transform="translate(336.34,116.90) scale(0.984,1)" font-family="Liberation Sans, sans-serif" font-size="8.6">λ</text>
<text transform="translate(340.61,118.30) scale(1.072,1)" font-family="Liberation Sans, sans-serif" font-size="5.0">I</text>
<text transform="translate(344.44,116.90) scale(1.101,1)" font-family="Liberation Sans, sans-serif" font-size="8.6">=</text>
<g transform="translate(352.94,116.90) scale(1.0640,1)" fill="#000"><text x="0.00" y="0" font-family="Liberation Sans, sans-serif" font-size="8.6">0.0</text><path transform="translate(11.96,0) scale(8.6,-8.230)" d="M0.3726,0 H0.2847 V0.560 Q0.2529,0.5298 0.2014,0.4995 Q0.150,0.469 0.1089,0.454 V0.539 Q0.1826,0.5737 0.2378,0.623 Q0.293,0.672 0.316,0.71875 H0.3726 Z"/></g>
</g>
</svg>
</body></html>
